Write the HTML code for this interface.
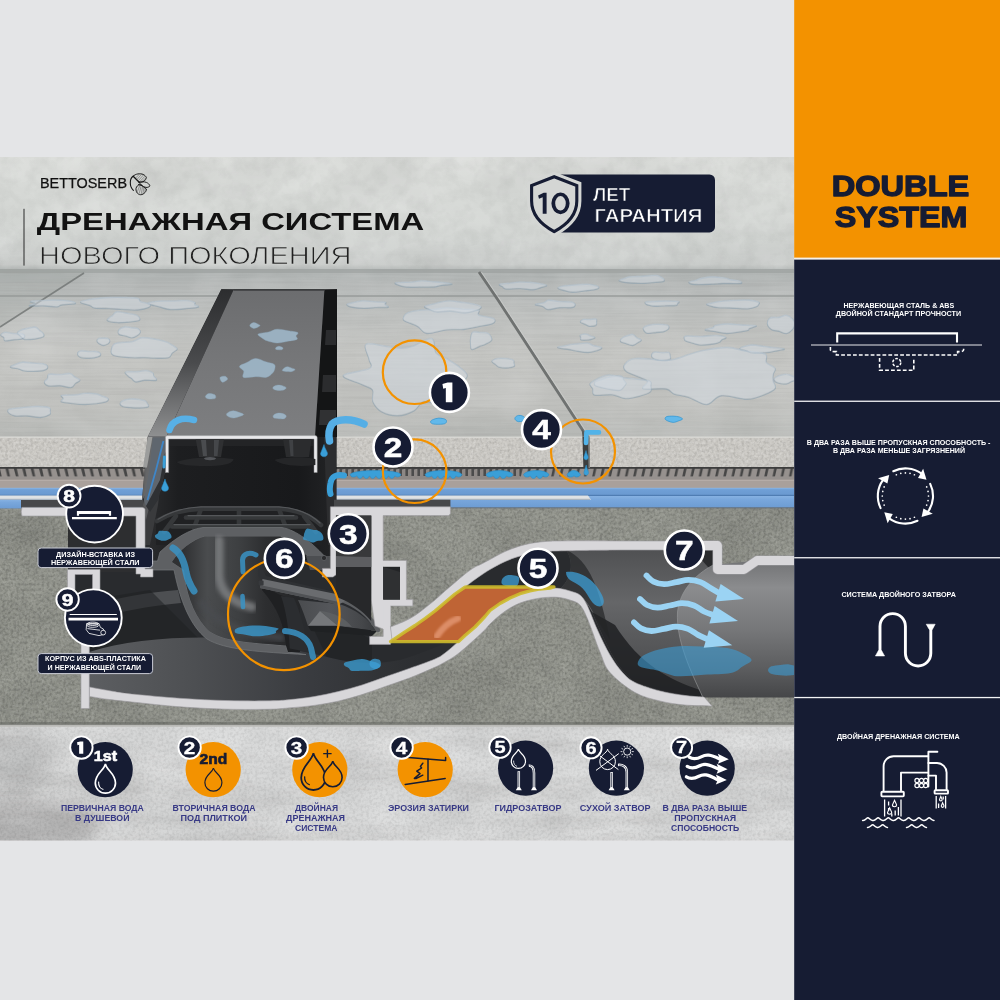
<!DOCTYPE html>
<html lang="ru">
<head>
<meta charset="utf-8">
<title>Double System</title>
<style>
html,body{margin:0;padding:0;background:#e4e5e7;}
body{width:1000px;height:1000px;overflow:hidden;font-family:"Liberation Sans",sans-serif;}
svg{display:block;position:absolute;left:0;top:0;will-change:transform;}
text{font-family:"Liberation Sans",sans-serif;}
</style>
</head>
<body>
<svg width="1000" height="1000" viewBox="0 0 1000 1000">
<defs>
  <clipPath id="mainClip"><rect x="0" y="157" width="794" height="683.5"/></clipPath>
  <!-- fine grain noise (dark speckles) -->
  <filter id="grain" x="0" y="0" width="100%" height="100%" color-interpolation-filters="sRGB">
    <feTurbulence type="fractalNoise" baseFrequency="0.36" numOctaves="2" seed="7"/>
    <feColorMatrix type="matrix" values="0 0 0 0 0  0 0 0 0 0  0 0 0 0 0  0 0 0 2.4 -0.95"/>
  </filter>
  <filter id="grainL" x="0" y="0" width="100%" height="100%" color-interpolation-filters="sRGB">
    <feTurbulence type="fractalNoise" baseFrequency="0.38" numOctaves="2" seed="11"/>
    <feColorMatrix type="matrix" values="0 0 0 0 1  0 0 0 0 1  0 0 0 0 1  0 0 0 2.4 -0.95"/>
  </filter>
  <!-- cloudy low-frequency noise -->
  <filter id="cloudD" x="0" y="0" width="100%" height="100%" color-interpolation-filters="sRGB">
    <feTurbulence type="fractalNoise" baseFrequency="0.012 0.02" numOctaves="4" seed="5"/>
    <feColorMatrix type="matrix" values="0 0 0 0 0  0 0 0 0 0  0 0 0 0 0  0 0 0 1.6 -0.55"/>
  </filter>
  <filter id="cloudL" x="0" y="0" width="100%" height="100%" color-interpolation-filters="sRGB">
    <feTurbulence type="fractalNoise" baseFrequency="0.015 0.022" numOctaves="4" seed="23"/>
    <feColorMatrix type="matrix" values="0 0 0 0 1  0 0 0 0 1  0 0 0 0 1  0 0 0 1.6 -0.55"/>
  </filter>
  <filter id="mottle" x="0" y="0" width="100%" height="100%" color-interpolation-filters="sRGB">
    <feTurbulence type="fractalNoise" baseFrequency="0.07" numOctaves="3" seed="31"/>
    <feColorMatrix type="matrix" values="0 0 0 0 0.35  0 0 0 0 0.36  0 0 0 0 0.35  0 0 0 2.0 -0.8"/>
  </filter>
  <filter id="cloudH" x="0" y="0" width="100%" height="100%" color-interpolation-filters="sRGB">
    <feTurbulence type="fractalNoise" baseFrequency="0.006 0.04" numOctaves="3" seed="13"/>
    <feColorMatrix type="matrix" values="0 0 0 0 0.3  0 0 0 0 0.28  0 0 0 0 0.27  0 0 0 2.2 -0.9"/>
  </filter>
  <filter id="streak" x="0" y="0" width="100%" height="100%" color-interpolation-filters="sRGB">
    <feTurbulence type="fractalNoise" baseFrequency="0.01 0.5" numOctaves="2" seed="9"/>
    <feColorMatrix type="matrix" values="0 0 0 0 0  0 0 0 0 0  0 0 0 0 0  0 0 0 1.6 -0.6"/>
  </filter>
  <filter id="blur1"><feGaussianBlur stdDeviation="1"/></filter>
  <filter id="blur2"><feGaussianBlur stdDeviation="2"/></filter>
  <filter id="blur4"><feGaussianBlur stdDeviation="4"/></filter>
  <filter id="blur8"><feGaussianBlur stdDeviation="8"/></filter>

  <linearGradient id="wallG" x1="0" y1="0" x2="0" y2="1">
    <stop offset="0" stop-color="#dbddda"/>
    <stop offset="0.6" stop-color="#d4d7d4"/>
    <stop offset="0.95" stop-color="#cdd0ce"/>
    <stop offset="1" stop-color="#b8bcbb"/>
  </linearGradient>
  <linearGradient id="floorG" x1="0" y1="0" x2="0" y2="1">
    <stop offset="0" stop-color="#adb1b0"/>
    <stop offset="0.15" stop-color="#b9bcbb"/>
    <stop offset="0.5" stop-color="#c3c4c1"/>
    <stop offset="0.8" stop-color="#bfc0bd"/>
    <stop offset="1" stop-color="#b5b7b4"/>
  </linearGradient>
  <linearGradient id="blueG" x1="0" y1="0" x2="0" y2="1">
    <stop offset="0" stop-color="#8db7e6"/>
    <stop offset="0.25" stop-color="#6f9fd6"/>
    <stop offset="1" stop-color="#6a99d0"/>
  </linearGradient>
  <linearGradient id="blueG2" x1="0" y1="0" x2="0" y2="1">
    <stop offset="0" stop-color="#86b1e2"/>
    <stop offset="0.3" stop-color="#79a7dc"/>
    <stop offset="1" stop-color="#6d9cd3"/>
  </linearGradient>
  <linearGradient id="plateG" x1="0" y1="0" x2="0" y2="1">
    <stop offset="0" stop-color="#6c6d6f"/>
    <stop offset="0.5" stop-color="#767779"/>
    <stop offset="1" stop-color="#7d7e80"/>
  </linearGradient>
  <linearGradient id="leftWallG" x1="0" y1="0" x2="0" y2="1">
    <stop offset="0" stop-color="#2c2d2f"/>
    <stop offset="0.5" stop-color="#4a4b4d"/>
    <stop offset="1" stop-color="#8f9091"/>
  </linearGradient>
  <linearGradient id="pipeG" x1="0" y1="0" x2="0" y2="1">
    <stop offset="0" stop-color="#77787a"/>
    <stop offset="0.25" stop-color="#8a8b8d"/>
    <stop offset="0.6" stop-color="#6f7072"/>
    <stop offset="1" stop-color="#4a4b4d"/>
  </linearGradient>
  <linearGradient id="sockG" x1="0" y1="0" x2="1" y2="1">
    <stop offset="0" stop-color="#3a3b3d"/>
    <stop offset="0.5" stop-color="#58595b"/>
    <stop offset="1" stop-color="#4a4b4d"/>
  </linearGradient>
  <pattern id="ribs3" x="0" y="468" width="8.4" height="12" patternUnits="userSpaceOnUse">
    <rect x="0" y="0" width="8.4" height="12" fill="#464646"/>
    <path d="M0 0.6 L5.4 0.6 L8.4 12 L2.4 12Z" fill="#96918e"/>
    <rect x="0" y="8.4" width="8.4" height="3.6" fill="#96918e"/>
  </pattern>
  <pattern id="ribs2" x="520" y="468" width="8.2" height="12" patternUnits="userSpaceOnUse">
    <rect x="0" y="0" width="8.2" height="12" fill="#464646"/>
    <path d="M2.6 0.6 L8.2 0.6 L5.8 12 L0 12Z" fill="#96918e"/>
    <rect x="0" y="8.4" width="8.2" height="3.6" fill="#96918e"/>
  </pattern>
  <pattern id="ribs" x="0" y="468" width="6" height="12" patternUnits="userSpaceOnUse">
    <rect x="0" y="0" width="6" height="12" fill="#4b4b4b"/>
    <path d="M0 1.5 L3.4 0.8 L3.4 12 L0 12Z" fill="#8d8885"/>
    <rect x="0" y="8" width="6" height="4" fill="#8d8885"/>
  </pattern>
</defs>
<rect x="0" y="0" width="1000" height="1000" fill="#e4e5e7"/>
<g clip-path="url(#mainClip)">
  <!-- WALL -->
  <rect x="0" y="157" width="794" height="113" fill="url(#wallG)"/>
  <rect x="0" y="157" width="794" height="113" filter="url(#cloudL)" opacity="0.22"/>
  <rect x="0" y="157" width="794" height="113" filter="url(#mottle)" opacity="0.07"/>
  <rect x="0" y="157" width="794" height="113" filter="url(#cloudD)" opacity="0.06"/>
  <!-- FLOOR -->
  <rect x="0" y="269" width="794" height="169" fill="url(#floorG)"/>
  <rect x="0" y="269" width="794" height="169" filter="url(#streak)" opacity="0.045"/>
  <rect x="0" y="269" width="794" height="169" filter="url(#cloudL)" opacity="0.18"/>
  <!-- far darker strip -->
  <rect x="0" y="269" width="794" height="4" fill="#9da1a0" opacity="0.7"/>
  <!-- left far darker zone -->
  <path d="M0 269 L86 271 L0 327Z" fill="#8f9392" opacity="0.16"/>
  <!-- joints -->
  <path d="M0 296 L794 296" stroke="#8f9392" stroke-width="1.3" opacity="0.8"/>
  <path d="M84 273 L0 327" stroke="#6f7372" stroke-width="1.6" opacity="0.8"/>
  <path d="M479 272 L498 300 L584.5 433" stroke="#6f7271" stroke-width="2.8" fill="none"/>
  <path d="M481.4 272 L500.4 300 L587 433" stroke="#d2d4d3" stroke-width="0.8" fill="none" opacity="0.7"/>
<g transform="translate(0 0.8)" fill="none" stroke="#8299ab" stroke-opacity="0.5" stroke-width="1.1">
<path d="M139.3 317.0C139.7 317.9 140.6 319.3 138.8 320.0C137.1 320.7 132.4 321.1 128.8 321.4C125.2 321.7 121.0 322.2 117.5 322.0C113.9 321.8 108.8 321.0 107.5 320.1C106.2 319.3 108.6 317.9 109.5 317.0C110.4 316.1 111.4 315.8 112.6 314.9C113.8 313.9 114.1 311.7 116.7 311.3C119.3 311.0 125.2 312.4 128.4 312.9C131.7 313.4 134.4 313.8 136.2 314.5C138.0 315.2 138.9 316.1 139.3 317.0Z"/>
<path d="M177.2 348.5C177.2 349.8 173.7 351.0 172.3 352.4C170.8 353.8 171.4 356.1 168.6 357.0C165.8 357.8 159.4 357.5 155.3 357.5C151.2 357.5 148.2 357.1 144.0 357.0C139.9 356.9 135.5 357.4 130.4 357.0C125.2 356.6 116.5 356.1 113.4 354.7C110.2 353.2 111.1 350.5 111.5 348.5C111.9 346.5 112.4 344.0 115.9 342.8C119.3 341.5 128.0 341.9 132.4 340.9C136.8 340.0 138.2 337.4 142.1 337.1C146.0 336.7 151.8 338.0 155.8 338.7C159.8 339.4 163.3 340.2 166.0 341.2C168.8 342.1 170.5 343.4 172.3 344.6C174.2 345.8 177.2 347.2 177.2 348.5Z"/>
<path d="M100.7 353.5C100.9 354.4 99.8 355.6 97.9 356.3C96.1 357.0 92.4 357.5 89.5 357.6C86.6 357.6 82.2 357.3 80.2 356.6C78.3 355.9 77.6 354.5 77.6 353.5C77.6 352.5 78.3 350.9 80.3 350.4C82.3 350.0 86.8 350.8 89.5 350.9C92.2 351.0 94.9 350.6 96.8 351.1C98.7 351.5 100.5 352.6 100.7 353.5Z"/>
<path d="M47.7 366.5C47.8 367.5 46.6 368.9 44.3 369.6C41.9 370.3 36.9 370.6 33.6 370.7C30.2 370.8 26.5 370.6 24.1 370.2C21.6 369.8 21.1 369.0 18.9 368.4C16.6 367.8 11.1 367.3 10.5 366.5C9.9 365.7 13.3 364.7 15.4 363.9C17.4 363.1 19.7 361.8 22.7 361.6C25.6 361.4 29.7 362.2 33.2 362.5C36.8 362.8 41.5 362.8 43.9 363.5C46.3 364.1 47.6 365.5 47.7 366.5Z"/>
<path d="M80.0 379.5C80.2 380.6 77.0 381.5 75.5 382.8C74.0 384.0 73.6 386.5 71.0 386.9C68.4 387.3 63.6 385.4 59.8 385.1C56.1 384.9 51.2 385.9 48.6 385.3C46.0 384.7 44.4 382.7 44.3 381.5C44.1 380.2 46.8 379.2 47.6 377.9C48.3 376.6 46.8 374.5 48.8 373.8C50.9 373.2 56.4 374.1 59.9 374.0C63.4 373.9 67.5 372.5 70.0 372.9C72.5 373.3 73.1 375.3 74.8 376.4C76.4 377.5 79.9 378.4 80.0 379.5Z"/>
<path d="M153.7 375.5C154.3 376.7 157.8 378.9 156.3 379.6C154.8 380.3 148.1 379.3 144.7 379.6C141.3 379.9 138.0 381.6 135.8 381.3C133.7 381.1 133.0 379.0 131.7 378.0C130.4 377.0 129.2 376.6 128.1 375.5C127.1 374.4 124.0 372.1 125.5 371.4C127.0 370.6 133.7 371.4 137.1 371.1C140.5 370.9 143.4 369.7 146.0 369.9C148.6 370.1 151.6 371.4 152.9 372.3C154.1 373.3 153.1 374.3 153.7 375.5Z"/>
<path d="M24.7 336.0C24.6 336.8 23.1 337.9 21.4 338.4C19.6 338.9 17.0 338.8 14.2 339.1C11.5 339.4 6.7 340.5 5.0 340.2C3.3 339.8 4.7 337.9 4.0 337.0C3.3 336.1 0.6 335.5 0.7 334.6C0.9 333.8 2.6 332.0 4.9 331.8C7.1 331.5 11.2 332.7 14.2 333.0C17.1 333.3 20.6 332.8 22.4 333.4C24.1 333.9 24.9 335.2 24.7 336.0Z"/>
<path d="M140.4 331.5C140.3 332.7 138.8 334.0 137.4 334.9C135.9 335.8 133.7 337.1 131.8 337.2C129.9 337.3 128.0 336.1 125.8 335.5C123.7 334.9 120.1 334.7 119.0 333.7C117.8 332.7 118.0 330.5 118.9 329.3C119.8 328.0 122.5 326.7 124.6 326.3C126.7 326.0 129.2 326.8 131.4 327.1C133.6 327.4 136.3 327.2 137.7 327.9C139.2 328.7 140.5 330.3 140.4 331.5Z"/>
<path d="M109.8 340.5C109.8 341.3 109.3 342.3 108.3 343.1C107.2 343.8 105.0 344.9 103.5 344.8C102.0 344.8 100.1 343.6 99.0 342.9C97.9 342.2 97.0 341.3 97.0 340.5C96.9 339.7 97.6 338.4 98.7 337.9C99.8 337.4 101.9 337.6 103.5 337.6C105.1 337.6 107.1 337.5 108.1 338.0C109.2 338.5 109.8 339.7 109.8 340.5Z"/>
<path d="M149.5 303.5C150.9 304.5 150.8 305.8 148.8 306.8C146.8 307.8 142.4 309.0 137.7 309.3C133.0 309.7 125.4 308.9 120.6 308.7C115.9 308.4 113.4 308.1 109.1 307.9C104.8 307.7 98.1 308.0 94.9 307.5C91.7 307.0 92.3 305.8 89.9 304.9C87.5 303.9 80.4 302.7 80.5 301.7C80.6 300.7 86.4 299.5 90.6 298.7C94.7 298.0 100.2 297.4 105.3 297.1C110.5 296.8 116.2 296.7 121.5 296.8C126.9 296.9 134.5 297.0 137.6 297.7C140.8 298.4 138.6 300.1 140.6 301.1C142.5 302.1 148.2 302.5 149.5 303.5Z"/>
<path d="M43.0 332.5C43.6 333.5 44.7 335.1 43.4 336.1C42.1 337.0 38.3 337.8 35.1 338.3C32.0 338.7 27.0 339.3 24.5 338.8C21.9 338.2 21.2 336.2 20.0 335.2C18.8 334.1 17.2 333.4 17.3 332.5C17.3 331.6 18.8 330.6 20.3 329.9C21.7 329.2 23.6 328.6 26.1 328.1C28.6 327.5 33.0 326.3 35.2 326.6C37.5 326.9 38.3 329.0 39.6 329.9C40.9 330.9 42.3 331.5 43.0 332.5Z"/>
<path d="M194.5 304.0C195.1 304.7 199.8 305.7 198.4 306.4C197.0 307.1 190.9 307.5 186.3 307.9C181.6 308.4 174.8 309.2 170.6 308.9C166.3 308.7 163.4 307.3 160.7 306.6C158.0 306.0 156.4 305.6 154.3 305.0C152.2 304.3 147.4 303.4 147.9 302.7C148.3 302.0 153.2 301.1 157.2 300.7C161.2 300.3 167.0 300.6 171.8 300.5C176.7 300.4 182.6 299.7 186.5 300.0C190.3 300.2 193.5 301.3 194.8 302.0C196.2 302.6 193.9 303.3 194.5 304.0Z"/>
<path d="M75.2 303.0C73.7 303.6 64.8 303.7 61.8 304.3C58.7 304.8 59.8 306.1 57.0 306.2C54.2 306.4 49.6 305.5 45.0 305.3C40.4 305.1 31.0 305.6 29.4 305.2C27.8 304.9 35.2 303.7 35.4 303.0C35.6 302.3 29.1 301.4 30.4 300.9C31.7 300.3 38.7 300.1 43.2 299.9C47.7 299.6 52.8 299.4 57.4 299.6C62.0 299.7 67.7 300.2 70.7 300.7C73.7 301.3 76.7 302.4 75.2 303.0Z"/>
<path d="M108.1 398.0C108.7 398.9 108.3 400.1 106.4 401.0C104.6 401.8 100.5 402.5 96.9 403.0C93.3 403.4 89.0 403.8 85.0 403.8C81.0 403.8 77.1 403.4 73.1 402.9C69.2 402.5 63.1 402.1 61.4 401.3C59.8 400.4 63.3 399.1 63.4 398.0C63.4 396.9 59.6 395.4 61.7 394.8C63.8 394.1 72.0 394.6 75.9 394.2C79.8 393.9 81.6 392.8 85.0 392.7C88.4 392.5 93.5 392.8 96.3 393.3C99.2 393.8 100.4 394.8 102.3 395.6C104.3 396.4 107.4 397.1 108.1 398.0Z"/>
<path d="M50.2 410.5C50.3 411.6 51.3 412.9 49.7 414.0C48.1 415.0 44.2 416.6 40.5 416.8C36.7 417.0 31.7 415.6 27.5 415.3C23.2 415.0 18.1 415.8 15.0 415.3C11.8 414.8 9.6 413.3 8.6 412.2C7.6 411.1 7.2 409.6 9.1 408.8C10.9 408.0 16.6 407.6 19.8 407.3C22.9 406.9 24.9 406.7 27.9 406.5C30.9 406.3 34.2 405.7 37.8 405.8C41.3 405.9 47.1 406.3 49.1 407.1C51.2 407.9 50.2 409.4 50.2 410.5Z"/>
<path d="M147.3 403.0C147.8 404.0 149.6 405.5 148.2 406.2C146.9 406.9 142.1 407.2 139.2 407.3C136.4 407.4 133.9 407.2 131.1 407.0C128.4 406.7 124.8 406.6 122.9 405.9C121.1 405.3 120.0 404.0 120.1 403.0C120.1 402.0 121.3 400.9 123.0 400.1C124.7 399.3 127.8 398.6 130.5 398.4C133.1 398.2 136.5 398.5 139.0 398.9C141.5 399.2 144.1 399.8 145.5 400.5C146.8 401.2 146.9 402.0 147.3 403.0Z"/>
<path d="M493.6 318.0C495.9 319.4 495.4 321.7 492.7 323.0C490.0 324.4 482.2 325.2 477.4 326.2C472.5 327.1 468.7 328.3 463.6 328.8C458.6 329.3 453.1 328.6 447.0 329.2C440.9 329.9 431.6 333.2 426.9 332.8C422.2 332.3 421.1 328.1 418.5 326.4C416.0 324.8 414.0 324.2 411.6 323.1C409.1 322.0 405.1 321.1 403.8 319.9C402.5 318.7 403.2 317.4 403.8 316.1C404.5 314.8 405.2 313.4 407.7 312.3C410.2 311.2 414.6 310.2 418.9 309.7C423.1 309.1 428.5 309.4 433.2 309.0C437.8 308.6 442.1 307.3 446.8 307.2C451.5 307.1 456.1 308.0 461.3 308.4C466.6 308.8 475.4 308.6 478.3 309.6C481.2 310.6 476.2 313.0 478.7 314.4C481.3 315.8 491.2 316.6 493.6 318.0Z"/>
<path d="M467.2 375.0C467.5 378.4 461.1 381.8 458.9 385.3C456.8 388.7 456.5 392.1 454.4 395.5C452.2 398.9 451.3 404.7 446.3 405.6C441.3 406.5 429.7 400.2 424.3 401.0C418.9 401.7 418.5 407.8 414.1 410.1C409.7 412.5 403.3 414.9 397.9 415.1C392.5 415.3 385.8 413.6 381.7 411.3C377.5 408.9 374.3 404.6 372.8 401.0C371.2 397.3 374.5 392.4 372.6 389.5C370.7 386.7 366.2 386.3 361.4 383.8C356.5 381.4 341.9 377.7 343.3 375.0C344.7 372.3 365.3 370.4 369.6 367.8C373.9 365.1 369.7 363.0 369.1 359.0C368.5 355.0 363.0 346.0 365.9 343.8C368.8 341.6 380.7 345.2 386.5 345.8C392.3 346.5 396.2 347.7 400.6 347.7C405.0 347.6 407.6 347.3 412.8 345.7C418.0 344.1 427.9 337.0 431.8 338.1C435.6 339.2 433.5 349.1 435.9 352.4C438.4 355.7 442.9 355.8 446.4 357.9C450.0 360.0 453.9 362.2 457.4 365.0C460.9 367.9 467.0 371.6 467.2 375.0Z"/>
<path d="M513.8 362.5C514.0 363.5 515.4 364.9 514.2 365.7C513.0 366.5 509.2 367.2 506.6 367.3C504.1 367.4 500.7 366.9 498.8 366.4C496.9 365.8 496.6 364.7 495.4 363.8C494.3 362.9 491.5 361.7 491.9 360.7C492.3 359.7 495.3 358.4 497.8 357.9C500.2 357.5 503.9 357.8 506.5 358.0C509.1 358.3 512.1 358.9 513.3 359.6C514.6 360.3 513.7 361.5 513.8 362.5Z"/>
<path d="M491.7 339.5C491.1 341.3 486.9 342.8 484.9 343.9C482.9 344.9 482.0 344.8 479.8 345.6C477.6 346.5 473.4 349.5 471.8 348.9C470.2 348.3 470.6 343.8 470.4 341.9C470.2 339.9 470.3 338.9 470.7 337.2C471.1 335.5 471.2 332.4 472.8 331.5C474.4 330.6 477.6 331.6 480.2 331.9C482.7 332.1 486.4 331.6 488.3 332.8C490.2 334.1 492.3 337.7 491.7 339.5Z"/>
<path d="M480.9 306.0C481.9 307.1 479.7 308.7 477.1 309.8C474.5 310.8 469.8 312.2 465.2 312.3C460.7 312.5 454.7 310.7 450.0 310.6C445.3 310.5 440.3 311.8 436.9 311.5C433.4 311.2 431.3 309.8 429.3 308.9C427.2 308.0 424.0 306.9 424.6 306.0C425.2 305.1 430.3 304.3 432.8 303.6C435.3 302.9 436.8 302.3 439.7 301.7C442.5 301.1 446.5 300.2 450.0 300.2C453.5 300.2 457.0 301.1 460.5 301.6C464.1 302.1 467.7 302.3 471.1 303.1C474.5 303.8 480.0 304.9 480.9 306.0Z"/>
<path d="M575.1 304.0C575.3 304.9 574.9 306.3 572.3 306.8C569.7 307.3 563.6 306.8 559.6 307.1C555.5 307.5 550.7 309.1 547.9 308.9C545.1 308.7 545.0 306.8 542.9 305.9C540.8 305.1 535.1 304.6 535.3 304.0C535.4 303.4 541.5 302.9 543.8 302.2C546.0 301.5 546.0 299.9 548.6 299.6C551.3 299.4 555.7 300.7 559.5 300.9C563.2 301.2 568.6 300.9 571.2 301.4C573.9 301.9 575.0 303.1 575.1 304.0Z"/>
<path d="M596.5 321.5C596.5 322.5 597.2 323.9 596.1 324.6C594.9 325.3 591.3 325.8 589.5 325.7C587.7 325.5 586.6 324.3 585.0 323.6C583.5 322.9 580.6 322.3 580.4 321.5C580.2 320.7 582.3 319.3 583.8 318.8C585.3 318.4 587.4 319.0 589.5 318.9C591.6 318.8 595.0 318.0 596.1 318.4C597.3 318.8 596.5 320.5 596.5 321.5Z"/>
<path d="M595.0 337.0C595.1 337.6 592.3 338.4 590.9 338.8C589.5 339.2 588.2 339.4 586.5 339.5C584.8 339.6 581.8 339.7 580.9 339.2C580.0 338.8 580.9 337.8 580.9 337.0C580.8 336.2 579.4 335.1 580.4 334.6C581.3 334.0 584.8 333.4 586.5 333.6C588.2 333.7 589.0 334.8 590.4 335.4C591.9 336.0 595.0 336.4 595.0 337.0Z"/>
<path d="M601.6 347.0C602.4 347.8 600.3 348.8 598.1 349.6C595.8 350.4 591.8 351.7 588.1 351.8C584.3 351.9 578.7 350.7 575.5 350.2C572.2 349.7 571.6 349.3 568.6 348.8C565.6 348.3 557.9 347.7 557.5 347.0C557.1 346.3 563.3 345.5 566.2 344.9C569.1 344.3 571.3 343.9 574.9 343.5C578.5 343.1 584.5 342.3 587.6 342.5C590.7 342.8 591.1 344.3 593.5 345.1C595.8 345.8 600.9 346.2 601.6 347.0Z"/>
<path d="M626.1 383.0C626.1 384.0 625.0 384.9 624.0 386.0C623.0 387.1 622.2 389.3 619.9 389.7C617.5 390.2 612.8 389.1 609.9 388.7C607.0 388.3 605.1 387.8 602.6 387.2C600.2 386.6 596.3 385.9 595.1 384.9C593.9 383.9 594.4 382.2 595.5 381.1C596.7 380.1 599.8 379.3 602.1 378.6C604.4 377.8 606.5 377.0 609.6 376.5C612.7 376.0 618.5 374.8 620.9 375.4C623.3 376.0 623.1 378.7 624.0 380.0C624.9 381.3 626.1 382.0 626.1 383.0Z"/>
<path d="M641.3 339.5C641.5 340.3 639.3 341.3 637.8 342.1C636.4 343.0 634.7 344.7 632.7 344.8C630.7 344.9 627.9 343.6 625.9 342.9C623.9 342.3 621.3 341.9 620.6 341.0C619.8 340.2 620.7 339.0 621.5 338.1C622.3 337.2 623.6 336.5 625.5 335.8C627.4 335.1 630.9 333.6 632.8 333.9C634.7 334.1 635.3 336.3 636.8 337.2C638.2 338.2 641.1 338.7 641.3 339.5Z"/>
<path d="M668.3 328.5C667.6 329.5 665.6 330.5 663.6 331.1C661.6 331.6 659.0 331.5 656.2 331.8C653.5 332.0 649.2 333.1 647.2 332.7C645.1 332.4 644.5 330.7 643.9 329.8C643.3 328.9 642.8 328.0 643.5 327.2C644.2 326.3 645.9 325.4 648.1 324.8C650.4 324.3 653.8 323.7 657.0 323.7C660.3 323.7 665.8 324.0 667.7 324.8C669.6 325.6 669.0 327.5 668.3 328.5Z"/>
<path d="M721.4 339.5C720.4 340.3 721.2 340.8 719.8 341.4C718.5 342.0 716.6 342.8 713.4 343.3C710.1 343.8 703.9 344.6 700.2 344.4C696.6 344.2 693.8 342.9 691.5 342.2C689.1 341.6 687.1 341.1 686.0 340.5C684.8 339.9 684.4 339.2 684.4 338.4C684.4 337.6 683.2 336.0 686.0 335.6C688.8 335.2 696.4 336.1 701.3 335.9C706.1 335.8 711.2 334.7 715.3 334.9C719.4 335.0 725.0 336.1 726.0 336.8C727.0 337.6 722.5 338.7 721.4 339.5Z"/>
<path d="M749.3 328.0C747.9 328.8 749.5 329.3 748.0 329.8C746.4 330.4 743.4 330.7 739.9 331.2C736.3 331.7 730.9 332.9 726.8 332.8C722.7 332.8 718.9 331.6 715.3 331.0C711.7 330.4 705.5 329.9 705.1 329.3C704.8 328.6 711.4 327.8 713.1 327.1C714.8 326.4 712.9 325.6 715.2 325.0C717.5 324.3 722.6 323.4 726.9 323.3C731.2 323.2 736.2 324.0 741.1 324.3C746.0 324.7 754.8 324.7 756.2 325.3C757.6 325.9 750.7 327.2 749.3 328.0Z"/>
<path d="M794.5 323.5C794.5 325.3 793.8 327.3 792.4 328.9C791.1 330.5 788.6 332.7 786.4 333.0C784.1 333.3 781.2 331.3 778.8 330.6C776.3 329.9 773.4 330.1 771.5 328.9C769.6 327.7 767.6 325.4 767.4 323.5C767.1 321.6 768.1 318.5 770.1 317.4C772.0 316.2 776.3 317.3 778.9 316.8C781.6 316.4 783.8 314.5 786.0 314.7C788.3 315.0 790.9 316.7 792.3 318.2C793.8 319.6 794.5 321.7 794.5 323.5Z"/>
<path d="M773.2 374.0C772.8 376.1 772.7 378.0 773.1 380.3C773.4 382.6 776.6 385.5 775.2 387.8C773.7 390.1 769.0 392.3 764.3 394.1C759.6 395.9 754.4 398.4 747.2 398.6C740.0 398.8 728.0 394.2 721.3 395.1C714.5 396.0 712.1 403.7 706.6 404.0C701.1 404.2 693.7 398.3 688.3 396.6C682.8 394.8 677.8 394.7 674.1 393.4C670.3 392.0 671.2 389.2 666.0 388.3C660.9 387.4 646.2 389.4 643.2 388.2C640.1 387.0 648.4 383.1 647.7 381.1C647.1 379.2 643.1 378.3 639.5 376.6C635.9 374.9 628.6 372.9 626.2 370.8C623.7 368.7 623.2 365.9 624.8 363.8C626.3 361.6 628.5 358.6 635.4 357.9C642.3 357.2 659.1 359.8 666.2 359.8C673.4 359.7 674.3 358.6 678.2 357.6C682.1 356.6 685.0 355.0 689.5 353.7C694.1 352.3 699.3 350.5 705.6 349.4C711.9 348.2 720.5 346.7 727.1 346.8C733.7 347.0 739.1 349.2 745.4 350.3C751.8 351.4 761.9 351.7 765.3 353.6C768.8 355.5 764.7 359.5 766.3 361.9C767.9 364.2 773.9 365.6 775.0 367.6C776.2 369.6 773.5 371.9 773.2 374.0Z"/>
<path d="M650.8 386.0C650.9 387.8 652.1 389.7 650.3 391.3C648.5 392.9 644.0 394.3 639.9 395.4C635.8 396.5 630.2 398.1 625.6 398.0C621.1 397.8 617.8 394.8 612.6 394.2C607.4 393.6 597.9 395.3 594.6 394.4C591.3 393.4 593.6 390.3 592.8 388.5C592.0 386.6 589.3 385.0 590.0 383.3C590.7 381.6 594.0 379.9 597.1 378.4C600.3 376.9 604.4 374.6 609.0 374.4C613.5 374.2 619.9 376.7 624.5 377.3C629.1 378.0 632.3 377.8 636.5 378.4C640.7 379.0 647.4 379.5 649.8 380.8C652.2 382.1 650.7 384.2 650.8 386.0Z"/>
<path d="M670.1 355.0C670.3 356.1 671.4 357.8 670.1 358.6C668.7 359.4 664.7 360.0 662.0 360.0C659.3 360.0 655.9 359.3 654.1 358.5C652.4 357.7 651.5 356.2 651.5 355.0C651.6 353.8 652.6 352.1 654.3 351.6C656.0 351.1 659.6 352.1 662.0 352.1C664.4 352.2 667.5 351.5 668.8 352.0C670.2 352.5 669.9 353.9 670.1 355.0Z"/>
<path d="M797.0 378.5C796.8 379.4 793.3 380.2 791.5 381.0C789.6 381.8 788.3 383.1 786.0 383.3C783.7 383.5 779.6 383.1 777.6 382.3C775.6 381.5 773.9 379.7 774.1 378.5C774.3 377.3 776.9 376.1 778.9 375.3C780.8 374.5 783.7 373.6 786.0 373.7C788.3 373.7 790.7 374.7 792.6 375.6C794.4 376.4 797.2 377.6 797.0 378.5Z"/>
<path d="M546.8 285.0C546.9 285.7 543.0 286.4 540.7 287.1C538.4 287.8 536.5 288.9 533.0 289.1C529.6 289.2 524.6 288.1 520.1 288.0C515.6 287.9 509.1 288.7 506.1 288.4C503.2 288.0 503.5 286.8 502.4 286.0C501.3 285.3 498.3 284.4 499.6 283.8C500.9 283.2 507.2 282.9 510.5 282.5C513.8 282.1 516.2 281.5 519.6 281.4C522.9 281.3 527.3 281.6 530.6 281.8C534.0 282.1 536.9 282.5 539.6 283.0C542.3 283.6 546.6 284.3 546.8 285.0Z"/>
<path d="M664.1 279.0C664.3 279.7 664.9 280.5 662.9 281.0C660.9 281.5 656.0 281.7 652.3 282.0C648.6 282.3 644.9 282.7 640.8 282.7C636.7 282.7 631.3 282.5 627.7 282.1C624.1 281.7 619.7 280.9 619.1 280.2C618.5 279.5 622.4 278.7 624.1 278.0C625.9 277.4 626.7 276.6 629.5 276.2C632.4 275.8 636.8 276.0 641.2 275.8C645.6 275.5 652.3 274.5 655.7 274.7C659.2 274.9 660.5 276.4 661.9 277.1C663.3 277.8 663.9 278.3 664.1 279.0Z"/>
<path d="M739.4 280.5C741.1 281.1 743.3 282.4 740.5 282.8C737.7 283.2 727.4 282.7 722.7 282.8C717.9 283.0 716.6 283.4 711.9 283.5C707.2 283.7 698.2 284.2 694.4 283.8C690.5 283.5 688.5 282.3 688.8 281.6C689.1 280.9 694.1 280.3 696.0 279.7C697.9 279.1 697.6 278.6 700.0 278.1C702.5 277.5 706.5 276.4 710.7 276.3C714.9 276.2 721.7 277.0 725.0 277.4C728.3 277.9 728.1 278.6 730.5 279.1C732.9 279.6 737.8 279.9 739.4 280.5Z"/>
<path d="M598.7 287.5C598.1 288.1 596.0 288.8 593.7 289.2C591.5 289.7 588.6 289.8 585.0 290.2C581.5 290.6 576.0 291.7 572.4 291.6C568.7 291.5 565.5 290.3 563.1 289.6C560.7 289.0 557.8 288.2 557.9 287.5C557.9 286.8 560.6 285.9 563.3 285.4C566.1 284.9 570.3 284.7 574.2 284.4C578.2 284.1 583.2 283.6 587.0 283.7C590.8 283.9 594.9 284.7 596.9 285.4C598.8 286.0 599.2 286.9 598.7 287.5Z"/>
<path d="M452.0 283.5C451.6 284.0 443.4 284.4 440.4 284.9C437.5 285.4 437.2 286.0 434.1 286.3C431.0 286.5 426.6 286.4 422.0 286.4C417.4 286.5 410.4 286.8 406.5 286.5C402.6 286.2 400.4 285.3 398.6 284.6C396.9 283.9 393.4 282.8 395.7 282.3C398.0 281.8 408.1 281.8 412.4 281.5C416.7 281.1 418.2 280.2 421.6 280.2C425.0 280.1 429.1 280.9 432.7 281.2C436.2 281.4 439.5 281.5 442.7 281.9C445.9 282.3 452.3 283.0 452.0 283.5Z"/>
<path d="M384.8 304.0C385.2 304.8 389.6 306.1 388.0 306.6C386.3 307.1 378.9 306.9 374.9 307.0C370.9 307.2 367.7 307.8 363.9 307.7C360.2 307.6 355.1 307.2 352.3 306.6C349.4 306.0 346.4 304.8 346.7 304.0C347.0 303.2 351.4 302.3 354.2 301.7C357.1 301.1 360.4 300.3 363.8 300.2C367.2 300.1 370.9 301.0 374.5 301.2C378.1 301.5 383.8 301.3 385.6 301.7C387.3 302.2 384.4 303.2 384.8 304.0Z"/>
<path d="M758.5 304.0C758.1 304.7 758.3 305.4 756.6 306.0C754.9 306.7 752.5 308.0 748.0 308.2C743.6 308.4 735.1 307.5 730.0 307.3C724.9 307.1 720.5 307.2 717.3 306.9C714.1 306.6 712.7 306.0 710.9 305.5C709.1 305.0 706.4 304.5 706.4 304.0C706.5 303.5 709.3 303.0 711.2 302.6C713.1 302.1 714.7 301.6 717.9 301.2C721.0 300.8 724.8 300.2 730.0 300.0C735.2 299.7 744.3 299.3 749.1 299.6C753.9 299.9 757.2 301.0 758.8 301.8C760.4 302.5 758.8 303.3 758.5 304.0Z"/>
<path d="M677.4 303.0C677.1 303.6 678.2 304.4 676.1 304.8C674.0 305.1 668.3 305.0 664.7 305.2C661.1 305.3 657.2 305.7 654.4 305.6C651.5 305.5 649.2 304.8 647.7 304.3C646.2 303.9 645.8 303.5 645.5 303.0C645.2 302.5 644.2 301.8 645.8 301.5C647.4 301.1 651.9 300.9 655.1 300.8C658.4 300.6 661.7 300.4 665.5 300.4C669.4 300.5 676.4 300.6 678.4 301.0C680.4 301.4 677.8 302.4 677.4 303.0Z"/>
<path d="M784.3 348.5C784.8 349.1 778.3 349.9 775.3 350.4C772.3 351.0 770.3 351.7 766.5 352.0C762.7 352.3 755.9 352.8 752.6 352.5C749.2 352.2 748.4 350.9 746.3 350.2C744.2 349.6 740.4 349.1 739.8 348.5C739.3 347.9 741.0 347.0 743.1 346.3C745.1 345.7 748.7 344.4 752.3 344.3C755.9 344.3 761.2 345.6 764.6 346.0C767.9 346.5 769.0 346.5 772.3 346.9C775.6 347.3 783.8 347.9 784.3 348.5Z"/>
</g>
<g fill="#d3dce3" fill-opacity="0.5" stroke="#a9b9c4" stroke-opacity="0.45" stroke-width="0.6">
<path d="M139.3 317.0C139.7 317.9 140.6 319.3 138.8 320.0C137.1 320.7 132.4 321.1 128.8 321.4C125.2 321.7 121.0 322.2 117.5 322.0C113.9 321.8 108.8 321.0 107.5 320.1C106.2 319.3 108.6 317.9 109.5 317.0C110.4 316.1 111.4 315.8 112.6 314.9C113.8 313.9 114.1 311.7 116.7 311.3C119.3 311.0 125.2 312.4 128.4 312.9C131.7 313.4 134.4 313.8 136.2 314.5C138.0 315.2 138.9 316.1 139.3 317.0Z"/>
<path d="M177.2 348.5C177.2 349.8 173.7 351.0 172.3 352.4C170.8 353.8 171.4 356.1 168.6 357.0C165.8 357.8 159.4 357.5 155.3 357.5C151.2 357.5 148.2 357.1 144.0 357.0C139.9 356.9 135.5 357.4 130.4 357.0C125.2 356.6 116.5 356.1 113.4 354.7C110.2 353.2 111.1 350.5 111.5 348.5C111.9 346.5 112.4 344.0 115.9 342.8C119.3 341.5 128.0 341.9 132.4 340.9C136.8 340.0 138.2 337.4 142.1 337.1C146.0 336.7 151.8 338.0 155.8 338.7C159.8 339.4 163.3 340.2 166.0 341.2C168.8 342.1 170.5 343.4 172.3 344.6C174.2 345.8 177.2 347.2 177.2 348.5Z"/>
<path d="M100.7 353.5C100.9 354.4 99.8 355.6 97.9 356.3C96.1 357.0 92.4 357.5 89.5 357.6C86.6 357.6 82.2 357.3 80.2 356.6C78.3 355.9 77.6 354.5 77.6 353.5C77.6 352.5 78.3 350.9 80.3 350.4C82.3 350.0 86.8 350.8 89.5 350.9C92.2 351.0 94.9 350.6 96.8 351.1C98.7 351.5 100.5 352.6 100.7 353.5Z"/>
<path d="M47.7 366.5C47.8 367.5 46.6 368.9 44.3 369.6C41.9 370.3 36.9 370.6 33.6 370.7C30.2 370.8 26.5 370.6 24.1 370.2C21.6 369.8 21.1 369.0 18.9 368.4C16.6 367.8 11.1 367.3 10.5 366.5C9.9 365.7 13.3 364.7 15.4 363.9C17.4 363.1 19.7 361.8 22.7 361.6C25.6 361.4 29.7 362.2 33.2 362.5C36.8 362.8 41.5 362.8 43.9 363.5C46.3 364.1 47.6 365.5 47.7 366.5Z"/>
<path d="M80.0 379.5C80.2 380.6 77.0 381.5 75.5 382.8C74.0 384.0 73.6 386.5 71.0 386.9C68.4 387.3 63.6 385.4 59.8 385.1C56.1 384.9 51.2 385.9 48.6 385.3C46.0 384.7 44.4 382.7 44.3 381.5C44.1 380.2 46.8 379.2 47.6 377.9C48.3 376.6 46.8 374.5 48.8 373.8C50.9 373.2 56.4 374.1 59.9 374.0C63.4 373.9 67.5 372.5 70.0 372.9C72.5 373.3 73.1 375.3 74.8 376.4C76.4 377.5 79.9 378.4 80.0 379.5Z"/>
<path d="M153.7 375.5C154.3 376.7 157.8 378.9 156.3 379.6C154.8 380.3 148.1 379.3 144.7 379.6C141.3 379.9 138.0 381.6 135.8 381.3C133.7 381.1 133.0 379.0 131.7 378.0C130.4 377.0 129.2 376.6 128.1 375.5C127.1 374.4 124.0 372.1 125.5 371.4C127.0 370.6 133.7 371.4 137.1 371.1C140.5 370.9 143.4 369.7 146.0 369.9C148.6 370.1 151.6 371.4 152.9 372.3C154.1 373.3 153.1 374.3 153.7 375.5Z"/>
<path d="M24.7 336.0C24.6 336.8 23.1 337.9 21.4 338.4C19.6 338.9 17.0 338.8 14.2 339.1C11.5 339.4 6.7 340.5 5.0 340.2C3.3 339.8 4.7 337.9 4.0 337.0C3.3 336.1 0.6 335.5 0.7 334.6C0.9 333.8 2.6 332.0 4.9 331.8C7.1 331.5 11.2 332.7 14.2 333.0C17.1 333.3 20.6 332.8 22.4 333.4C24.1 333.9 24.9 335.2 24.7 336.0Z"/>
<path d="M140.4 331.5C140.3 332.7 138.8 334.0 137.4 334.9C135.9 335.8 133.7 337.1 131.8 337.2C129.9 337.3 128.0 336.1 125.8 335.5C123.7 334.9 120.1 334.7 119.0 333.7C117.8 332.7 118.0 330.5 118.9 329.3C119.8 328.0 122.5 326.7 124.6 326.3C126.7 326.0 129.2 326.8 131.4 327.1C133.6 327.4 136.3 327.2 137.7 327.9C139.2 328.7 140.5 330.3 140.4 331.5Z"/>
<path d="M109.8 340.5C109.8 341.3 109.3 342.3 108.3 343.1C107.2 343.8 105.0 344.9 103.5 344.8C102.0 344.8 100.1 343.6 99.0 342.9C97.9 342.2 97.0 341.3 97.0 340.5C96.9 339.7 97.6 338.4 98.7 337.9C99.8 337.4 101.9 337.6 103.5 337.6C105.1 337.6 107.1 337.5 108.1 338.0C109.2 338.5 109.8 339.7 109.8 340.5Z"/>
<path d="M149.5 303.5C150.9 304.5 150.8 305.8 148.8 306.8C146.8 307.8 142.4 309.0 137.7 309.3C133.0 309.7 125.4 308.9 120.6 308.7C115.9 308.4 113.4 308.1 109.1 307.9C104.8 307.7 98.1 308.0 94.9 307.5C91.7 307.0 92.3 305.8 89.9 304.9C87.5 303.9 80.4 302.7 80.5 301.7C80.6 300.7 86.4 299.5 90.6 298.7C94.7 298.0 100.2 297.4 105.3 297.1C110.5 296.8 116.2 296.7 121.5 296.8C126.9 296.9 134.5 297.0 137.6 297.7C140.8 298.4 138.6 300.1 140.6 301.1C142.5 302.1 148.2 302.5 149.5 303.5Z"/>
<path d="M43.0 332.5C43.6 333.5 44.7 335.1 43.4 336.1C42.1 337.0 38.3 337.8 35.1 338.3C32.0 338.7 27.0 339.3 24.5 338.8C21.9 338.2 21.2 336.2 20.0 335.2C18.8 334.1 17.2 333.4 17.3 332.5C17.3 331.6 18.8 330.6 20.3 329.9C21.7 329.2 23.6 328.6 26.1 328.1C28.6 327.5 33.0 326.3 35.2 326.6C37.5 326.9 38.3 329.0 39.6 329.9C40.9 330.9 42.3 331.5 43.0 332.5Z"/>
<path d="M194.5 304.0C195.1 304.7 199.8 305.7 198.4 306.4C197.0 307.1 190.9 307.5 186.3 307.9C181.6 308.4 174.8 309.2 170.6 308.9C166.3 308.7 163.4 307.3 160.7 306.6C158.0 306.0 156.4 305.6 154.3 305.0C152.2 304.3 147.4 303.4 147.9 302.7C148.3 302.0 153.2 301.1 157.2 300.7C161.2 300.3 167.0 300.6 171.8 300.5C176.7 300.4 182.6 299.7 186.5 300.0C190.3 300.2 193.5 301.3 194.8 302.0C196.2 302.6 193.9 303.3 194.5 304.0Z"/>
<path d="M75.2 303.0C73.7 303.6 64.8 303.7 61.8 304.3C58.7 304.8 59.8 306.1 57.0 306.2C54.2 306.4 49.6 305.5 45.0 305.3C40.4 305.1 31.0 305.6 29.4 305.2C27.8 304.9 35.2 303.7 35.4 303.0C35.6 302.3 29.1 301.4 30.4 300.9C31.7 300.3 38.7 300.1 43.2 299.9C47.7 299.6 52.8 299.4 57.4 299.6C62.0 299.7 67.7 300.2 70.7 300.7C73.7 301.3 76.7 302.4 75.2 303.0Z"/>
<path d="M108.1 398.0C108.7 398.9 108.3 400.1 106.4 401.0C104.6 401.8 100.5 402.5 96.9 403.0C93.3 403.4 89.0 403.8 85.0 403.8C81.0 403.8 77.1 403.4 73.1 402.9C69.2 402.5 63.1 402.1 61.4 401.3C59.8 400.4 63.3 399.1 63.4 398.0C63.4 396.9 59.6 395.4 61.7 394.8C63.8 394.1 72.0 394.6 75.9 394.2C79.8 393.9 81.6 392.8 85.0 392.7C88.4 392.5 93.5 392.8 96.3 393.3C99.2 393.8 100.4 394.8 102.3 395.6C104.3 396.4 107.4 397.1 108.1 398.0Z"/>
<path d="M50.2 410.5C50.3 411.6 51.3 412.9 49.7 414.0C48.1 415.0 44.2 416.6 40.5 416.8C36.7 417.0 31.7 415.6 27.5 415.3C23.2 415.0 18.1 415.8 15.0 415.3C11.8 414.8 9.6 413.3 8.6 412.2C7.6 411.1 7.2 409.6 9.1 408.8C10.9 408.0 16.6 407.6 19.8 407.3C22.9 406.9 24.9 406.7 27.9 406.5C30.9 406.3 34.2 405.7 37.8 405.8C41.3 405.9 47.1 406.3 49.1 407.1C51.2 407.9 50.2 409.4 50.2 410.5Z"/>
<path d="M147.3 403.0C147.8 404.0 149.6 405.5 148.2 406.2C146.9 406.9 142.1 407.2 139.2 407.3C136.4 407.4 133.9 407.2 131.1 407.0C128.4 406.7 124.8 406.6 122.9 405.9C121.1 405.3 120.0 404.0 120.1 403.0C120.1 402.0 121.3 400.9 123.0 400.1C124.7 399.3 127.8 398.6 130.5 398.4C133.1 398.2 136.5 398.5 139.0 398.9C141.5 399.2 144.1 399.8 145.5 400.5C146.8 401.2 146.9 402.0 147.3 403.0Z"/>
<path d="M493.6 318.0C495.9 319.4 495.4 321.7 492.7 323.0C490.0 324.4 482.2 325.2 477.4 326.2C472.5 327.1 468.7 328.3 463.6 328.8C458.6 329.3 453.1 328.6 447.0 329.2C440.9 329.9 431.6 333.2 426.9 332.8C422.2 332.3 421.1 328.1 418.5 326.4C416.0 324.8 414.0 324.2 411.6 323.1C409.1 322.0 405.1 321.1 403.8 319.9C402.5 318.7 403.2 317.4 403.8 316.1C404.5 314.8 405.2 313.4 407.7 312.3C410.2 311.2 414.6 310.2 418.9 309.7C423.1 309.1 428.5 309.4 433.2 309.0C437.8 308.6 442.1 307.3 446.8 307.2C451.5 307.1 456.1 308.0 461.3 308.4C466.6 308.8 475.4 308.6 478.3 309.6C481.2 310.6 476.2 313.0 478.7 314.4C481.3 315.8 491.2 316.6 493.6 318.0Z"/>
<path d="M467.2 375.0C467.5 378.4 461.1 381.8 458.9 385.3C456.8 388.7 456.5 392.1 454.4 395.5C452.2 398.9 451.3 404.7 446.3 405.6C441.3 406.5 429.7 400.2 424.3 401.0C418.9 401.7 418.5 407.8 414.1 410.1C409.7 412.5 403.3 414.9 397.9 415.1C392.5 415.3 385.8 413.6 381.7 411.3C377.5 408.9 374.3 404.6 372.8 401.0C371.2 397.3 374.5 392.4 372.6 389.5C370.7 386.7 366.2 386.3 361.4 383.8C356.5 381.4 341.9 377.7 343.3 375.0C344.7 372.3 365.3 370.4 369.6 367.8C373.9 365.1 369.7 363.0 369.1 359.0C368.5 355.0 363.0 346.0 365.9 343.8C368.8 341.6 380.7 345.2 386.5 345.8C392.3 346.5 396.2 347.7 400.6 347.7C405.0 347.6 407.6 347.3 412.8 345.7C418.0 344.1 427.9 337.0 431.8 338.1C435.6 339.2 433.5 349.1 435.9 352.4C438.4 355.7 442.9 355.8 446.4 357.9C450.0 360.0 453.9 362.2 457.4 365.0C460.9 367.9 467.0 371.6 467.2 375.0Z"/>
<path d="M513.8 362.5C514.0 363.5 515.4 364.9 514.2 365.7C513.0 366.5 509.2 367.2 506.6 367.3C504.1 367.4 500.7 366.9 498.8 366.4C496.9 365.8 496.6 364.7 495.4 363.8C494.3 362.9 491.5 361.7 491.9 360.7C492.3 359.7 495.3 358.4 497.8 357.9C500.2 357.5 503.9 357.8 506.5 358.0C509.1 358.3 512.1 358.9 513.3 359.6C514.6 360.3 513.7 361.5 513.8 362.5Z"/>
<path d="M491.7 339.5C491.1 341.3 486.9 342.8 484.9 343.9C482.9 344.9 482.0 344.8 479.8 345.6C477.6 346.5 473.4 349.5 471.8 348.9C470.2 348.3 470.6 343.8 470.4 341.9C470.2 339.9 470.3 338.9 470.7 337.2C471.1 335.5 471.2 332.4 472.8 331.5C474.4 330.6 477.6 331.6 480.2 331.9C482.7 332.1 486.4 331.6 488.3 332.8C490.2 334.1 492.3 337.7 491.7 339.5Z"/>
<path d="M480.9 306.0C481.9 307.1 479.7 308.7 477.1 309.8C474.5 310.8 469.8 312.2 465.2 312.3C460.7 312.5 454.7 310.7 450.0 310.6C445.3 310.5 440.3 311.8 436.9 311.5C433.4 311.2 431.3 309.8 429.3 308.9C427.2 308.0 424.0 306.9 424.6 306.0C425.2 305.1 430.3 304.3 432.8 303.6C435.3 302.9 436.8 302.3 439.7 301.7C442.5 301.1 446.5 300.2 450.0 300.2C453.5 300.2 457.0 301.1 460.5 301.6C464.1 302.1 467.7 302.3 471.1 303.1C474.5 303.8 480.0 304.9 480.9 306.0Z"/>
<path d="M575.1 304.0C575.3 304.9 574.9 306.3 572.3 306.8C569.7 307.3 563.6 306.8 559.6 307.1C555.5 307.5 550.7 309.1 547.9 308.9C545.1 308.7 545.0 306.8 542.9 305.9C540.8 305.1 535.1 304.6 535.3 304.0C535.4 303.4 541.5 302.9 543.8 302.2C546.0 301.5 546.0 299.9 548.6 299.6C551.3 299.4 555.7 300.7 559.5 300.9C563.2 301.2 568.6 300.9 571.2 301.4C573.9 301.9 575.0 303.1 575.1 304.0Z"/>
<path d="M596.5 321.5C596.5 322.5 597.2 323.9 596.1 324.6C594.9 325.3 591.3 325.8 589.5 325.7C587.7 325.5 586.6 324.3 585.0 323.6C583.5 322.9 580.6 322.3 580.4 321.5C580.2 320.7 582.3 319.3 583.8 318.8C585.3 318.4 587.4 319.0 589.5 318.9C591.6 318.8 595.0 318.0 596.1 318.4C597.3 318.8 596.5 320.5 596.5 321.5Z"/>
<path d="M595.0 337.0C595.1 337.6 592.3 338.4 590.9 338.8C589.5 339.2 588.2 339.4 586.5 339.5C584.8 339.6 581.8 339.7 580.9 339.2C580.0 338.8 580.9 337.8 580.9 337.0C580.8 336.2 579.4 335.1 580.4 334.6C581.3 334.0 584.8 333.4 586.5 333.6C588.2 333.7 589.0 334.8 590.4 335.4C591.9 336.0 595.0 336.4 595.0 337.0Z"/>
<path d="M601.6 347.0C602.4 347.8 600.3 348.8 598.1 349.6C595.8 350.4 591.8 351.7 588.1 351.8C584.3 351.9 578.7 350.7 575.5 350.2C572.2 349.7 571.6 349.3 568.6 348.8C565.6 348.3 557.9 347.7 557.5 347.0C557.1 346.3 563.3 345.5 566.2 344.9C569.1 344.3 571.3 343.9 574.9 343.5C578.5 343.1 584.5 342.3 587.6 342.5C590.7 342.8 591.1 344.3 593.5 345.1C595.8 345.8 600.9 346.2 601.6 347.0Z"/>
<path d="M626.1 383.0C626.1 384.0 625.0 384.9 624.0 386.0C623.0 387.1 622.2 389.3 619.9 389.7C617.5 390.2 612.8 389.1 609.9 388.7C607.0 388.3 605.1 387.8 602.6 387.2C600.2 386.6 596.3 385.9 595.1 384.9C593.9 383.9 594.4 382.2 595.5 381.1C596.7 380.1 599.8 379.3 602.1 378.6C604.4 377.8 606.5 377.0 609.6 376.5C612.7 376.0 618.5 374.8 620.9 375.4C623.3 376.0 623.1 378.7 624.0 380.0C624.9 381.3 626.1 382.0 626.1 383.0Z"/>
<path d="M641.3 339.5C641.5 340.3 639.3 341.3 637.8 342.1C636.4 343.0 634.7 344.7 632.7 344.8C630.7 344.9 627.9 343.6 625.9 342.9C623.9 342.3 621.3 341.9 620.6 341.0C619.8 340.2 620.7 339.0 621.5 338.1C622.3 337.2 623.6 336.5 625.5 335.8C627.4 335.1 630.9 333.6 632.8 333.9C634.7 334.1 635.3 336.3 636.8 337.2C638.2 338.2 641.1 338.7 641.3 339.5Z"/>
<path d="M668.3 328.5C667.6 329.5 665.6 330.5 663.6 331.1C661.6 331.6 659.0 331.5 656.2 331.8C653.5 332.0 649.2 333.1 647.2 332.7C645.1 332.4 644.5 330.7 643.9 329.8C643.3 328.9 642.8 328.0 643.5 327.2C644.2 326.3 645.9 325.4 648.1 324.8C650.4 324.3 653.8 323.7 657.0 323.7C660.3 323.7 665.8 324.0 667.7 324.8C669.6 325.6 669.0 327.5 668.3 328.5Z"/>
<path d="M721.4 339.5C720.4 340.3 721.2 340.8 719.8 341.4C718.5 342.0 716.6 342.8 713.4 343.3C710.1 343.8 703.9 344.6 700.2 344.4C696.6 344.2 693.8 342.9 691.5 342.2C689.1 341.6 687.1 341.1 686.0 340.5C684.8 339.9 684.4 339.2 684.4 338.4C684.4 337.6 683.2 336.0 686.0 335.6C688.8 335.2 696.4 336.1 701.3 335.9C706.1 335.8 711.2 334.7 715.3 334.9C719.4 335.0 725.0 336.1 726.0 336.8C727.0 337.6 722.5 338.7 721.4 339.5Z"/>
<path d="M749.3 328.0C747.9 328.8 749.5 329.3 748.0 329.8C746.4 330.4 743.4 330.7 739.9 331.2C736.3 331.7 730.9 332.9 726.8 332.8C722.7 332.8 718.9 331.6 715.3 331.0C711.7 330.4 705.5 329.9 705.1 329.3C704.8 328.6 711.4 327.8 713.1 327.1C714.8 326.4 712.9 325.6 715.2 325.0C717.5 324.3 722.6 323.4 726.9 323.3C731.2 323.2 736.2 324.0 741.1 324.3C746.0 324.7 754.8 324.7 756.2 325.3C757.6 325.9 750.7 327.2 749.3 328.0Z"/>
<path d="M794.5 323.5C794.5 325.3 793.8 327.3 792.4 328.9C791.1 330.5 788.6 332.7 786.4 333.0C784.1 333.3 781.2 331.3 778.8 330.6C776.3 329.9 773.4 330.1 771.5 328.9C769.6 327.7 767.6 325.4 767.4 323.5C767.1 321.6 768.1 318.5 770.1 317.4C772.0 316.2 776.3 317.3 778.9 316.8C781.6 316.4 783.8 314.5 786.0 314.7C788.3 315.0 790.9 316.7 792.3 318.2C793.8 319.6 794.5 321.7 794.5 323.5Z"/>
<path d="M773.2 374.0C772.8 376.1 772.7 378.0 773.1 380.3C773.4 382.6 776.6 385.5 775.2 387.8C773.7 390.1 769.0 392.3 764.3 394.1C759.6 395.9 754.4 398.4 747.2 398.6C740.0 398.8 728.0 394.2 721.3 395.1C714.5 396.0 712.1 403.7 706.6 404.0C701.1 404.2 693.7 398.3 688.3 396.6C682.8 394.8 677.8 394.7 674.1 393.4C670.3 392.0 671.2 389.2 666.0 388.3C660.9 387.4 646.2 389.4 643.2 388.2C640.1 387.0 648.4 383.1 647.7 381.1C647.1 379.2 643.1 378.3 639.5 376.6C635.9 374.9 628.6 372.9 626.2 370.8C623.7 368.7 623.2 365.9 624.8 363.8C626.3 361.6 628.5 358.6 635.4 357.9C642.3 357.2 659.1 359.8 666.2 359.8C673.4 359.7 674.3 358.6 678.2 357.6C682.1 356.6 685.0 355.0 689.5 353.7C694.1 352.3 699.3 350.5 705.6 349.4C711.9 348.2 720.5 346.7 727.1 346.8C733.7 347.0 739.1 349.2 745.4 350.3C751.8 351.4 761.9 351.7 765.3 353.6C768.8 355.5 764.7 359.5 766.3 361.9C767.9 364.2 773.9 365.6 775.0 367.6C776.2 369.6 773.5 371.9 773.2 374.0Z"/>
<path d="M650.8 386.0C650.9 387.8 652.1 389.7 650.3 391.3C648.5 392.9 644.0 394.3 639.9 395.4C635.8 396.5 630.2 398.1 625.6 398.0C621.1 397.8 617.8 394.8 612.6 394.2C607.4 393.6 597.9 395.3 594.6 394.4C591.3 393.4 593.6 390.3 592.8 388.5C592.0 386.6 589.3 385.0 590.0 383.3C590.7 381.6 594.0 379.9 597.1 378.4C600.3 376.9 604.4 374.6 609.0 374.4C613.5 374.2 619.9 376.7 624.5 377.3C629.1 378.0 632.3 377.8 636.5 378.4C640.7 379.0 647.4 379.5 649.8 380.8C652.2 382.1 650.7 384.2 650.8 386.0Z"/>
<path d="M670.1 355.0C670.3 356.1 671.4 357.8 670.1 358.6C668.7 359.4 664.7 360.0 662.0 360.0C659.3 360.0 655.9 359.3 654.1 358.5C652.4 357.7 651.5 356.2 651.5 355.0C651.6 353.8 652.6 352.1 654.3 351.6C656.0 351.1 659.6 352.1 662.0 352.1C664.4 352.2 667.5 351.5 668.8 352.0C670.2 352.5 669.9 353.9 670.1 355.0Z"/>
<path d="M797.0 378.5C796.8 379.4 793.3 380.2 791.5 381.0C789.6 381.8 788.3 383.1 786.0 383.3C783.7 383.5 779.6 383.1 777.6 382.3C775.6 381.5 773.9 379.7 774.1 378.5C774.3 377.3 776.9 376.1 778.9 375.3C780.8 374.5 783.7 373.6 786.0 373.7C788.3 373.7 790.7 374.7 792.6 375.6C794.4 376.4 797.2 377.6 797.0 378.5Z"/>
<path d="M546.8 285.0C546.9 285.7 543.0 286.4 540.7 287.1C538.4 287.8 536.5 288.9 533.0 289.1C529.6 289.2 524.6 288.1 520.1 288.0C515.6 287.9 509.1 288.7 506.1 288.4C503.2 288.0 503.5 286.8 502.4 286.0C501.3 285.3 498.3 284.4 499.6 283.8C500.9 283.2 507.2 282.9 510.5 282.5C513.8 282.1 516.2 281.5 519.6 281.4C522.9 281.3 527.3 281.6 530.6 281.8C534.0 282.1 536.9 282.5 539.6 283.0C542.3 283.6 546.6 284.3 546.8 285.0Z"/>
<path d="M664.1 279.0C664.3 279.7 664.9 280.5 662.9 281.0C660.9 281.5 656.0 281.7 652.3 282.0C648.6 282.3 644.9 282.7 640.8 282.7C636.7 282.7 631.3 282.5 627.7 282.1C624.1 281.7 619.7 280.9 619.1 280.2C618.5 279.5 622.4 278.7 624.1 278.0C625.9 277.4 626.7 276.6 629.5 276.2C632.4 275.8 636.8 276.0 641.2 275.8C645.6 275.5 652.3 274.5 655.7 274.7C659.2 274.9 660.5 276.4 661.9 277.1C663.3 277.8 663.9 278.3 664.1 279.0Z"/>
<path d="M739.4 280.5C741.1 281.1 743.3 282.4 740.5 282.8C737.7 283.2 727.4 282.7 722.7 282.8C717.9 283.0 716.6 283.4 711.9 283.5C707.2 283.7 698.2 284.2 694.4 283.8C690.5 283.5 688.5 282.3 688.8 281.6C689.1 280.9 694.1 280.3 696.0 279.7C697.9 279.1 697.6 278.6 700.0 278.1C702.5 277.5 706.5 276.4 710.7 276.3C714.9 276.2 721.7 277.0 725.0 277.4C728.3 277.9 728.1 278.6 730.5 279.1C732.9 279.6 737.8 279.9 739.4 280.5Z"/>
<path d="M598.7 287.5C598.1 288.1 596.0 288.8 593.7 289.2C591.5 289.7 588.6 289.8 585.0 290.2C581.5 290.6 576.0 291.7 572.4 291.6C568.7 291.5 565.5 290.3 563.1 289.6C560.7 289.0 557.8 288.2 557.9 287.5C557.9 286.8 560.6 285.9 563.3 285.4C566.1 284.9 570.3 284.7 574.2 284.4C578.2 284.1 583.2 283.6 587.0 283.7C590.8 283.9 594.9 284.7 596.9 285.4C598.8 286.0 599.2 286.9 598.7 287.5Z"/>
<path d="M452.0 283.5C451.6 284.0 443.4 284.4 440.4 284.9C437.5 285.4 437.2 286.0 434.1 286.3C431.0 286.5 426.6 286.4 422.0 286.4C417.4 286.5 410.4 286.8 406.5 286.5C402.6 286.2 400.4 285.3 398.6 284.6C396.9 283.9 393.4 282.8 395.7 282.3C398.0 281.8 408.1 281.8 412.4 281.5C416.7 281.1 418.2 280.2 421.6 280.2C425.0 280.1 429.1 280.9 432.7 281.2C436.2 281.4 439.5 281.5 442.7 281.9C445.9 282.3 452.3 283.0 452.0 283.5Z"/>
<path d="M384.8 304.0C385.2 304.8 389.6 306.1 388.0 306.6C386.3 307.1 378.9 306.9 374.9 307.0C370.9 307.2 367.7 307.8 363.9 307.7C360.2 307.6 355.1 307.2 352.3 306.6C349.4 306.0 346.4 304.8 346.7 304.0C347.0 303.2 351.4 302.3 354.2 301.7C357.1 301.1 360.4 300.3 363.8 300.2C367.2 300.1 370.9 301.0 374.5 301.2C378.1 301.5 383.8 301.3 385.6 301.7C387.3 302.2 384.4 303.2 384.8 304.0Z"/>
<path d="M758.5 304.0C758.1 304.7 758.3 305.4 756.6 306.0C754.9 306.7 752.5 308.0 748.0 308.2C743.6 308.4 735.1 307.5 730.0 307.3C724.9 307.1 720.5 307.2 717.3 306.9C714.1 306.6 712.7 306.0 710.9 305.5C709.1 305.0 706.4 304.5 706.4 304.0C706.5 303.5 709.3 303.0 711.2 302.6C713.1 302.1 714.7 301.6 717.9 301.2C721.0 300.8 724.8 300.2 730.0 300.0C735.2 299.7 744.3 299.3 749.1 299.6C753.9 299.9 757.2 301.0 758.8 301.8C760.4 302.5 758.8 303.3 758.5 304.0Z"/>
<path d="M677.4 303.0C677.1 303.6 678.2 304.4 676.1 304.8C674.0 305.1 668.3 305.0 664.7 305.2C661.1 305.3 657.2 305.7 654.4 305.6C651.5 305.5 649.2 304.8 647.7 304.3C646.2 303.9 645.8 303.5 645.5 303.0C645.2 302.5 644.2 301.8 645.8 301.5C647.4 301.1 651.9 300.9 655.1 300.8C658.4 300.6 661.7 300.4 665.5 300.4C669.4 300.5 676.4 300.6 678.4 301.0C680.4 301.4 677.8 302.4 677.4 303.0Z"/>
<path d="M784.3 348.5C784.8 349.1 778.3 349.9 775.3 350.4C772.3 351.0 770.3 351.7 766.5 352.0C762.7 352.3 755.9 352.8 752.6 352.5C749.2 352.2 748.4 350.9 746.3 350.2C744.2 349.6 740.4 349.1 739.8 348.5C739.3 347.9 741.0 347.0 743.1 346.3C745.1 345.7 748.7 344.4 752.3 344.3C755.9 344.3 761.2 345.6 764.6 346.0C767.9 346.5 769.0 346.5 772.3 346.9C775.6 347.3 783.8 347.9 784.3 348.5Z"/>
</g>
  <!-- CONCRETE MASS -->
  <rect x="0" y="498" width="794" height="228" fill="#95978f"/>
  <rect x="0" y="498" width="794" height="228" filter="url(#grain)" opacity="0.17"/>
  <rect x="0" y="498" width="794" height="228" filter="url(#grainL)" opacity="0.11"/>
  <rect x="0" y="498" width="794" height="228" filter="url(#mottle)" opacity="0.13"/>
  <rect x="0" y="498" width="794" height="228" filter="url(#cloudD)" opacity="0.10"/>
  <!-- BOTTOM LIGHT BAND -->
  <rect x="0" y="725" width="794" height="116" fill="#d9dada"/>
  <ellipse cx="10" cy="825" rx="90" ry="28" fill="#8d8b8b" opacity="0.45" filter="url(#blur8)"/>
  <ellipse cx="15" cy="760" rx="45" ry="30" fill="#9a9a9a" opacity="0.35" filter="url(#blur8)"/>
  <rect x="0" y="725" width="794" height="116" filter="url(#cloudD)" opacity="0.07"/>
  <rect x="0" y="725" width="794" height="116" filter="url(#cloudL)" opacity="0.3"/>
  <rect x="0" y="725" width="794" height="116" filter="url(#cloudH)" opacity="0.12"/>
  <rect x="0" y="725" width="794" height="116" filter="url(#grain)" opacity="0.07"/>
  <rect x="0" y="724.5" width="794" height="2.2" fill="#b9b9b6"/>
  <rect x="0" y="722" width="794" height="3" fill="#5d5f5a" opacity="0.45"/>
  <!-- TILE FRONT FACES -->
  <g>
    <rect x="0" y="437" width="794" height="31" fill="#cac8c3"/>
    <rect x="0" y="437" width="794" height="31" filter="url(#grain)" opacity="0.10"/>
    <rect x="0" y="437" width="794" height="31" filter="url(#grainL)" opacity="0.22"/>
    <rect x="0" y="436.4" width="794" height="1.6" fill="#d9d9d6" opacity="0.8"/>
  </g>
  <!-- ribbed adhesive -->
  <rect x="0" y="467.6" width="160" height="12.4" fill="url(#ribs3)"/>
  <rect x="160" y="467.6" width="360" height="12.4" fill="url(#ribs)"/>
  <rect x="520" y="467.6" width="274" height="12.4" fill="url(#ribs2)"/>
  <rect x="0" y="467" width="794" height="1.6" fill="#3d3d3d"/>
  <!-- brown grey -->
  <rect x="0" y="479.8" width="794" height="8.2" fill="#a9a09b"/>
  <rect x="0" y="479.8" width="794" height="1" fill="#b8b0ab"/>
  <!-- blue membrane -->
  <rect x="0" y="487.8" width="794" height="7.4" fill="url(#blueG)"/>
  <rect x="0" y="494.8" width="794" height="1.2" fill="#4f7db3"/>
  <rect x="0" y="496" width="794" height="11.6" fill="url(#blueG2)"/>
  <rect x="0" y="507.2" width="794" height="1.2" fill="#5c6a78" opacity="0.7"/>
  <!-- white strip -->
  <path d="M0 495.6 L588 495.6 L591 499.8 L0 499.8Z" fill="#dfe2e4"/>
  <path d="M0 499.3 L590 499.3" stroke="#9aa3ad" stroke-width="0.8"/>
  <!-- left: concrete under blue (x<21 blue continues 500..509) -->
  <!-- joint gap between right tiles -->
  <path d="M582.4 436.4 L589.4 436.4 L589.8 468 L583.4 468Z" fill="#3c3e3e"/>
  <path d="M588.2 436.4 L589.4 436.4 L589.8 468 L588.6 468Z" fill="#8a8b88"/>
  <path d="M581.6 429 L589.4 436.6 L582.4 436.6Z" fill="#5a5c5b"/>
<path d="M221.4 289.3 L337 289.3 L336.5 520 L143 520 L142 500 L147.7 437Z" fill="#1b1c1e"/>
<path d="M68 570 L145 570 L145 516 L371 516 L371 640 L392 640 L391.0 641.0C393.3 639.5 401.0 634.4 405.0 631.8C409.0 629.2 411.7 627.7 415.0 625.5C418.3 623.3 421.7 620.9 425.0 618.5C428.3 616.1 431.7 613.7 435.0 611.0C438.3 608.3 441.7 605.3 445.0 602.5C448.3 599.7 451.7 596.6 455.0 594.0C458.3 591.4 461.7 589.4 465.0 587.0C468.3 584.6 472.5 581.3 475.0 579.5C477.5 577.7 477.5 577.7 480.0 576.0C482.5 574.3 486.7 571.5 490.0 569.5C493.3 567.5 496.7 565.7 500.0 564.0C503.3 562.3 507.2 560.7 510.0 559.5C512.8 558.3 513.7 558.0 517.0 557.0C520.3 556.0 525.3 554.4 530.0 553.5C534.7 552.6 540.7 551.9 545.0 551.5C549.3 551.1 550.2 551.2 556.0 551.0C561.8 550.8 569.3 550.7 580.0 550.5C590.7 550.3 613.3 550.1 620.0 550.0 L714 550 L714 574 L746 574 L757 565 L794 565 L794 697 L704 697 L704.0 697.0C700.8 696.8 692.3 696.5 685.0 695.5C677.7 694.5 668.3 693.2 660.0 691.0C651.7 688.8 641.2 685.6 635.0 682.5C628.8 679.4 626.7 677.1 622.5 672.5C618.3 667.9 614.2 662.1 610.0 655.0C605.8 647.9 601.3 638.3 597.5 630.0C593.7 621.7 589.9 610.8 587.0 605.0C584.1 599.2 582.8 597.3 580.0 595.0C577.2 592.7 573.3 592.1 570.0 591.0C566.7 589.9 563.3 589.0 560.0 588.5C556.7 588.0 553.3 588.1 550.0 588.2C546.7 588.3 543.3 588.6 540.0 589.0C536.7 589.4 533.3 590.0 530.0 590.8C526.7 591.6 523.3 592.5 520.0 593.7C516.7 594.9 513.3 596.4 510.0 598.0C506.7 599.6 503.3 601.4 500.0 603.5C496.7 605.6 492.5 608.3 490.0 610.5C487.5 612.7 487.5 613.8 485.0 616.5C482.5 619.2 478.3 623.8 475.0 627.0C471.7 630.2 468.3 632.6 465.0 635.5C461.7 638.4 458.3 641.6 455.0 644.5C451.7 647.4 448.3 650.6 445.0 653.0C441.7 655.4 440.8 656.5 435.0 659.0C429.2 661.5 418.2 665.3 410.0 668.2C401.8 671.1 394.0 673.8 386.0 676.6C378.0 679.4 370.0 682.5 362.0 685.0C354.0 687.5 346.0 689.7 338.0 691.6C330.0 693.5 322.0 695.3 314.0 696.6C306.0 697.9 297.3 698.9 290.0 699.6C282.7 700.3 280.3 700.6 270.0 700.8C259.7 701.0 243.0 701.0 228.0 700.6C213.0 700.2 196.0 699.4 180.0 698.3C164.0 697.2 143.7 695.2 132.0 694.0C120.3 692.8 117.1 692.0 110.0 690.8C102.9 689.6 92.8 687.6 89.3 687.0 L89.3 630 L75 608Z" fill="#292b2e"/>
<!-- channel interior -->
<linearGradient id="chanIn" gradientUnits="userSpaceOnUse" x1="150" y1="0" x2="336" y2="0">
  <stop offset="0" stop-color="#2a2b2d"/>
  <stop offset="0.15" stop-color="#1d1e20"/>
  <stop offset="0.8" stop-color="#18191b"/>
  <stop offset="1" stop-color="#232426"/>
</linearGradient>
<path d="M150 437 L336 437 L336 560 L150 560Z" fill="url(#chanIn)"/>
<!-- left channel wall (cut face, slanted) -->
<path d="M149.5 440 L166 437 L158 505 L150 545 L145 545 L143 505Z" fill="#3a3b3d"/>
<path d="M149.5 467 L152.5 437 L160 437 L151 500 L146 520 L143 505Z" fill="#58595b"/>
<!-- right channel wall -->
<path d="M324 437 L336 437 L336 545 L328 545Z" fill="#2c2d2f"/>
<path d="M68 516 L136 516 L136 572 L68 572Z" fill="#2d2e30"/>
<!-- outer bowl rings (body inner, left) -->
<path d="M89.3 606 C115 598 150 592 178 590 L181 603 C150 606 115 612 89.3 620Z" fill="#4d4f52"/>

<linearGradient id="floorBody" gradientUnits="userSpaceOnUse" x1="89" y1="0" x2="420" y2="0">
  <stop offset="0" stop-color="#5c5e61"/>
  <stop offset="0.3" stop-color="#4e5053"/>
  <stop offset="0.65" stop-color="#3a3c40"/>
  <stop offset="1" stop-color="#2c2e31"/>
</linearGradient>
<path d="M89.3 600 L150 590 L200 640 L330 664 L300 600 L372 640 L372 664 L89.3 664Z" fill="#1f2123" opacity="0.55"/>
<path d="M89.3 652 C120 642 160 637.5 204 637.5 C250 640 300 650 340 660 C360 664 380 664 400 660 C420 654 440 646 456 638 L470 632 L440 660 L400 676 L340 694 L270 702 L180 700 L89.3 688Z" fill="url(#floorBody)"/>
<!-- grate -->
<path d="M156 520 C168 512 186 508 201 507 L279 507 C296 508 311 514 322 525 L322 545 L156 545Z" fill="#202123"/>
<g stroke="#36383a" stroke-width="4.6" fill="none" stroke-linecap="round">
  <path d="M157 521 C170 513 187 509.4 201 508.8 L279 508.8 C296 509.6 311 516 321 525"/>
  <path d="M186 517.5 L296 517.5"/>
  <path d="M172 526.5 L312 526.5"/>
  <path d="M201 509 L194 528"/>
  <path d="M239 509 L239 528"/>
  <path d="M279 509 L286 528"/>
  <path d="M176 516 L164 532"/>
  <path d="M304 516 L316 532"/>
</g>
<g stroke="#55575a" stroke-width="1.2" fill="none" stroke-linecap="round">
  <path d="M158 519.2 C171 511.2 187 507.4 201 506.8 L279 506.8 C296 507.6 311 514 320 523"/>
  <path d="M188 515.6 L294 515.6"/>
  <path d="M174 524.6 L310 524.6"/>
</g>
<!-- dome + ledge + cup (cut faces) -->
<path d="M157.5 561 L160 552 C175 538 190 529 203 527.5 L282 527.5 C296 530 312 542 328 560 L328 569 L318 569 C308 555 294 541 280 536.5 L205 536.5 C192 540 180 550 172 562 L184 570 C186 590 192 612 206 628 C218 640 240 642 286 645.5 L288 652 L306 654.6 C260 652 225 650 207 639 C190 626 180 600 174 570 L145 570 L145 561Z" fill="#5e6063" stroke="#737578" stroke-width="0.7"/>
<!-- cup interior -->
<linearGradient id="cupG" gradientUnits="userSpaceOnUse" x1="184" y1="0" x2="300" y2="0">
  <stop offset="0" stop-color="#303133"/>
  <stop offset="0.2" stop-color="#4a4c4e"/>
  <stop offset="0.5" stop-color="#3c3e40"/>
  <stop offset="0.7" stop-color="#2d2e30"/>
  <stop offset="1" stop-color="#252628"/>
</linearGradient>
<path d="M205 536.5 L280 536.5 C290 540 300 548 306 556 L262 575 L268 585 L300 598 L300 646 L286 645.5 C240 642 218 640 206 628 C192 612 186 590 184 570 L172 562 C180 550 192 540 205 536.5Z" fill="url(#cupG)"/>
<path d="M219 540 L219 574 C219 592 233 603 252 607" fill="none" stroke="#7d7f81" stroke-width="9" stroke-linecap="round" filter="url(#blur2)" opacity="0.85"/>
<path d="M200 600 C215 625 245 634 284 638" fill="none" stroke="#4a4c4f" stroke-width="8" filter="url(#blur2)" opacity="0.7"/>
<!-- cup right wall (dark curved) -->
<path d="M262 577 C262 583 266 590 286 597 C296 610 300 630 300 652 L288 652 L286 645.5 C284 625 278 608 262 590Z" fill="#1f2022"/>
<!-- right ledge block -->
<path d="M306 556 L332 556 L332 570 L310 570Z" fill="#4c4e51"/>
<circle cx="324" cy="558" r="2.6" fill="#2a2b2d" stroke="#66686b" stroke-width="0.7"/>
<!-- cup right wall faces -->
<path d="M281 596 C286 610 289 630 289.7 648.6 L308 652 C306 630 300 612 294 598Z" fill="#2b2d30"/>
<!-- horn -->
<linearGradient id="hornG" gradientUnits="userSpaceOnUse" x1="298" y1="0" x2="378" y2="0">
  <stop offset="0" stop-color="#4a4c4f"/>
  <stop offset="0.4" stop-color="#54565a"/>
  <stop offset="0.8" stop-color="#45474a"/>
  <stop offset="1" stop-color="#37393c"/>
</linearGradient>
<path d="M298 600 L339 604 C355 609 369 619 377 631 L337 626 L308 626 C305 617 302 608 298 600Z" fill="url(#hornG)"/>
<path d="M308 626 L337 626 L377 631 L372 636 C350 634 325 632 311 631Z" fill="#1f2123"/>
<path d="M308.4 625.5 L320 611 L337.5 625.5Z" fill="#75777a"/>
<path d="M320 611 L337.5 625.5 L352 627 C345 618 333 612 320 611Z" fill="#5f6164" opacity="0.8"/>
<path d="M339 599 C356 604 370 616 378 630" fill="none" stroke="#5d5f62" stroke-width="4.5" stroke-linecap="round"/>
<!-- flap -->
<path d="M258 569.6 L262 568 L266 576 L346 594.5 L346 597 L262.5 579.5 L258 576Z" fill="#2f3134"/>
<path d="M262.5 579 L345.8 596 L346.5 600 L339 604.4 L260 588Z" fill="#6a6c6f"/>
<path d="M260 585 L339 602 L339 604.4 L260 588Z" fill="#505255"/>
<rect x="258.6" y="580.6" width="5" height="5" rx="1" fill="#37393c"/>
<!-- socket interior gradient -->
<linearGradient id="sockV" gradientUnits="userSpaceOnUse" x1="0" y1="550" x2="0" y2="700">
  <stop offset="0" stop-color="#505153"/>
  <stop offset="0.35" stop-color="#656668"/>
  <stop offset="0.75" stop-color="#505153"/>
  <stop offset="1" stop-color="#38393b"/>
</linearGradient>
<path d="M566 550 L714 550 L714 697 L702 697 C680 695 655 690 635 682 C615 668 605 640 592 612 C585 598 575 590 560 589 C575 575 572 558 566 550Z" fill="url(#sockV)"/>
<!-- dark shadow lower left of socket -->
<path d="M592 612 C605 640 615 668 635 682 C655 690 680 695 702 697 L700 690 C670 680 640 665 615 625Z" fill="#1f2022" opacity="0.85"/>
<path d="M566 550 C590 560 600 590 610 640 L596 618 C588 600 578 590 560 589 C575 575 572 558 566 550Z" fill="#242527" opacity="0.7"/>
<path d="M696 550 L714 550 L714 573 C706 566 700 558 696 550Z" fill="#2a2b2d"/>
<!-- big pipe -->
<linearGradient id="pipeV" gradientUnits="userSpaceOnUse" x1="0" y1="556" x2="0" y2="700">
  <stop offset="0" stop-color="#6e6f71"/>
  <stop offset="0.22" stop-color="#8b8c8e"/>
  <stop offset="0.5" stop-color="#77787a"/>
  <stop offset="0.8" stop-color="#5a5b5d"/>
  <stop offset="1" stop-color="#434446"/>
</linearGradient>
<path d="M713 565 L800 556 L800 697.5 L703 697.5 C690 670 676 640 677.5 612 C680 590 695 575 713 565Z" fill="url(#pipeV)"/>
<path d="M713 565 C695 575 680 590 677.5 612 C676 640 690 670 703 697.5" fill="none" stroke="#9a9b9d" stroke-width="1" opacity="0.6"/>
<g fill="#d8d7da" stroke="#9c9b9f" stroke-width="0.6" stroke-linejoin="round">
<path d="M89.3 696.4C92.8 696.9 102.9 698.7 110.0 699.6C117.1 700.5 120.3 700.8 132.0 702.0C143.7 703.2 164.0 705.6 180.0 706.8C196.0 708.0 213.0 708.8 228.0 709.2C243.0 709.6 259.7 709.4 270.0 709.2C280.3 709.0 282.7 708.4 290.0 707.8C297.3 707.2 306.0 706.5 314.0 705.4C322.0 704.3 330.0 703.0 338.0 701.2C346.0 699.4 354.0 697.1 362.0 694.6C370.0 692.1 378.0 689.0 386.0 686.2C394.0 683.4 402.0 680.9 410.0 677.8C418.0 674.7 428.2 670.2 434.0 667.6C439.8 665.0 441.5 663.9 445.0 662.0C448.5 660.1 451.7 658.3 455.0 656.0C458.3 653.7 461.7 650.8 465.0 648.0C468.3 645.2 471.7 642.0 475.0 639.0C478.3 636.0 482.5 632.2 485.0 629.7C487.5 627.2 487.5 626.5 490.0 624.0C492.5 621.5 496.7 617.7 500.0 615.0C503.3 612.3 506.7 610.0 510.0 608.0C513.3 606.0 516.7 604.3 520.0 603.0C523.3 601.7 526.7 600.8 530.0 600.0C533.3 599.2 536.7 598.5 540.0 598.0C543.3 597.5 546.7 597.3 550.0 597.2C553.3 597.1 556.7 597.0 560.0 597.5C563.3 598.0 566.7 598.8 570.0 600.0C573.3 601.2 577.0 601.7 580.0 605.0C583.0 608.3 584.7 612.2 588.0 620.0C591.3 627.8 596.3 643.2 600.0 652.0C603.7 660.8 604.2 665.8 610.0 672.5C615.8 679.2 626.7 687.8 635.0 692.5C643.3 697.2 651.7 698.9 660.0 701.0C668.3 703.1 676.3 704.2 685.0 705.0C693.7 705.8 707.5 705.8 712.0 706.0 L704.0 697.0C700.8 696.8 692.3 696.5 685.0 695.5C677.7 694.5 668.3 693.2 660.0 691.0C651.7 688.8 641.2 685.6 635.0 682.5C628.8 679.4 626.7 677.1 622.5 672.5C618.3 667.9 614.2 662.1 610.0 655.0C605.8 647.9 601.3 638.3 597.5 630.0C593.7 621.7 589.9 610.8 587.0 605.0C584.1 599.2 582.8 597.3 580.0 595.0C577.2 592.7 573.3 592.1 570.0 591.0C566.7 589.9 563.3 589.0 560.0 588.5C556.7 588.0 553.3 588.1 550.0 588.2C546.7 588.3 543.3 588.6 540.0 589.0C536.7 589.4 533.3 590.0 530.0 590.8C526.7 591.6 523.3 592.5 520.0 593.7C516.7 594.9 513.3 596.4 510.0 598.0C506.7 599.6 503.3 601.4 500.0 603.5C496.7 605.6 492.5 608.3 490.0 610.5C487.5 612.7 487.5 613.8 485.0 616.5C482.5 619.2 478.3 623.8 475.0 627.0C471.7 630.2 468.3 632.6 465.0 635.5C461.7 638.4 458.3 641.6 455.0 644.5C451.7 647.4 448.3 650.6 445.0 653.0C441.7 655.4 440.8 656.5 435.0 659.0C429.2 661.5 418.2 665.3 410.0 668.2C401.8 671.1 394.0 673.8 386.0 676.6C378.0 679.4 370.0 682.5 362.0 685.0C354.0 687.5 346.0 689.7 338.0 691.6C330.0 693.5 322.0 695.3 314.0 696.6C306.0 697.9 297.3 698.9 290.0 699.6C282.7 700.3 280.3 700.6 270.0 700.8C259.7 701.0 243.0 701.0 228.0 700.6C213.0 700.2 196.0 699.4 180.0 698.3C164.0 697.2 143.7 695.2 132.0 694.0C120.3 692.8 117.1 692.0 110.0 690.8C102.9 689.6 92.8 687.6 89.3 687.0Z"/>
<path d="M390.4 627.0C390.8 626.8 390.6 627.0 393.0 626.0C395.4 625.0 401.3 622.8 405.0 621.0C408.7 619.2 411.7 617.7 415.0 615.5C418.3 613.3 421.7 610.6 425.0 608.0C428.3 605.4 431.7 602.8 435.0 600.0C438.3 597.2 441.7 593.9 445.0 591.0C448.3 588.1 451.7 585.3 455.0 582.5C458.3 579.7 461.7 576.6 465.0 574.0C468.3 571.4 472.5 568.5 475.0 567.0C477.5 565.5 477.5 566.0 480.0 564.8C482.5 563.5 486.7 561.3 490.0 559.5C493.3 557.7 496.7 555.7 500.0 554.0C503.3 552.3 506.7 550.8 510.0 549.5C513.3 548.2 516.7 547.0 520.0 546.0C523.3 545.0 526.7 544.2 530.0 543.5C533.3 542.8 536.7 542.4 540.0 542.0C543.3 541.6 546.7 541.4 550.0 541.2C553.3 541.0 555.0 541.1 560.0 541.0C565.0 540.9 570.0 540.8 580.0 540.8C590.0 540.8 613.3 541.0 620.0 541.0 L714 541 L714 550 L620 550 L620.0 550.0C613.3 550.1 590.7 550.3 580.0 550.5C569.3 550.7 561.8 550.8 556.0 551.0C550.2 551.2 549.3 551.1 545.0 551.5C540.7 551.9 534.7 552.6 530.0 553.5C525.3 554.4 520.3 556.0 517.0 557.0C513.7 558.0 512.8 558.3 510.0 559.5C507.2 560.7 503.3 562.3 500.0 564.0C496.7 565.7 493.3 567.5 490.0 569.5C486.7 571.5 482.5 574.3 480.0 576.0C477.5 577.7 477.5 577.7 475.0 579.5C472.5 581.3 468.3 584.6 465.0 587.0C461.7 589.4 458.3 591.4 455.0 594.0C451.7 596.6 448.3 599.7 445.0 602.5C441.7 605.3 438.3 608.3 435.0 611.0C431.7 613.7 428.3 616.1 425.0 618.5C421.7 620.9 418.3 623.3 415.0 625.5C411.7 627.7 409.0 629.2 405.0 631.8C401.0 634.4 393.3 639.5 391.0 641.0Z"/>
</g>
<path d="M700 545.5 L717.5 545.5 L717.5 569.5 L744 569.5 L757 560.5 L795 560.5" fill="none" stroke="#9c9b9f" stroke-width="10" stroke-linejoin="round"/>
<path d="M700 545.5 L717.5 545.5 L717.5 569.5 L744 569.5 L757 560.5 L795 560.5" fill="none" stroke="#d8d7da" stroke-width="8.8" stroke-linejoin="round"/>
<!-- concrete blocks behind flanges (left x<21 blue continues) -->
<rect x="0" y="499.8" width="21" height="8.6" fill="url(#blueG2)"/>
<!-- dark layers above flanges -->
<path d="M21 500 L143 500 L143 507.6 L21 507.6Z" fill="#47484a"/>
<path d="M334 499.8 L450.4 499.8 L450.4 507 L334 507Z" fill="#47484a"/>
<g fill="#d8d7da" stroke="#9c9b9f" stroke-width="0.6" stroke-linejoin="round">
  <!-- left flange + leg -->
  <path d="M22 507.4 L143 507.4 L145 509 L145 569 L153 569 L153 577 L140.5 577 L140.5 574 L136 574 L136 516 L22 516 Q20.5 512 22 507.4Z"/>
  <!-- left shell -->
  <path d="M67.5 569.5 L100 569.5 L100 607 L92.5 607 L92.5 574.5 L75 574.5 L75 606 L89.3 628 L89.3 708.5 L81 708.5 L81 631 L67.5 610Z"/>
  <!-- right flange + left leg -->
  <path d="M330.4 506.8 L450.4 506.8 L450.4 513.5 L449 515.6 L383.2 515.6 L383.2 560.4 L406.4 560.4 L406.4 599.6 L412.8 599.6 L412.8 606 L390.4 606 L390.4 626 L392 640 L390.4 644.4 L369.6 644.4 L369.6 636.4 L383.2 636.4 L383.2 629 L375 626 L371.2 600 L371.2 515.6 L336 515.6 L336 574.8 L333 577 L322.4 577 L322.4 568.4 L330.4 568.4Z"/>
</g>
<!-- bracket dark interior -->
<path d="M383.2 566.8 L400 566.8 L400 599.6 L383.2 599.6Z" fill="#232426"/>
<path d="M383.2 566.8 L400 572 L400 599.6 L383.2 599.6Z" fill="#2f3032"/>
<path d="M383.2 606 L390.4 606 L390.4 626 L383.2 629Z" fill="#d8d7da"/>
<!-- zone between right legs -->
<path d="M336 515.6 L371.2 515.6 L371.2 621 C362 610 350 602 339 598 L336 597Z" fill="#27282a"/>
<path d="M336 516 L371.2 516 L371.2 557 L336 556Z" fill="#38393b"/>
<path d="M336 556 L371.2 557 L371.2 567 L336 567Z" fill="#5d5e61"/>
<!-- left sloping wall of channel -->
<path d="M221.4 289.3 L233.5 290 L166.4 436.7 L147.7 436.7Z" fill="url(#leftWallG)"/>
<path d="M147.7 436.7 L166.4 436.7 L160 468 L142.5 500 L142 500Z" fill="#6d6e70" opacity="0.85"/>
<!-- tile side (left tile right face) -->
<path d="M147.7 437 L152.5 437 L147 467.6 L143 467.6Z" fill="#9c9d9c"/>
<!-- right black gap -->
<path d="M324.4 290 L337 289.3 L337 437 L315 436.7Z" fill="#141516"/>
<path d="M326 330 L336 330 L336 345 L325 345Z" fill="#2b2c2e"/>
<path d="M323 375 L336 375 L336 392 L322 392Z" fill="#2b2c2e"/>
<path d="M320 410 L336 410 L336 425 L319 425Z" fill="#303133"/>
<!-- cover plate -->
<path d="M233.5 290 L324.4 290 L315 436.7 L166.4 436.7Z" fill="url(#plateG)"/>
<path d="M233.5 290 L324.4 290" stroke="#3b3c3e" stroke-width="1.5"/>
<!-- U-section steel -->
<path d="M165.3 472.5 L165.3 437.5 Q165.3 435.6 167.5 435.6 L315 435.6 Q317.2 435.6 317.2 437.5 L317.2 472.5 L314 472.5 L314 439 L168.6 439 L168.6 472.5Z" fill="#e9e9eb" stroke="#8d8e91" stroke-width="0.5"/>
<!-- under-cover struts -->
<path d="M170 440 L313 440 L313 446 L170 446Z" fill="#232426"/>
<path d="M195.6 439 L224 439 L221 457 L199 457Z" fill="#2f3032"/>
<path d="M201 440 L206 440 L207 456 L203 456Z" fill="#4a4c4f"/>
<path d="M214 440 L219 440 L217.5 456 L214 456Z" fill="#45474a"/>
<path d="M283 439 L311.6 439 L309 457 L286 457Z" fill="#2b2c2e"/>
<path d="M289 440 L293 440 L293.5 456 L290.5 456Z" fill="#3f4144"/>
<path d="M176.6 462 C190 456.5 220 456.5 233.6 459 C232 464.5 222 466 205 466 C190 466 180 465 176.6 462Z" fill="#27282a"/>
<path d="M274.5 460 C285 456.5 305 456.5 315.4 459 L315.4 465 C300 467 283 466 274.5 460Z" fill="#252628"/>
<ellipse cx="210" cy="458.6" rx="6" ry="1.6" fill="#54565a"/>
<!-- left glassy face + blue strip -->
<path d="M152.8 437.5 L165.2 437.5 L165.2 470 L160 492 L146 506 L144 500 L149.5 467.6Z" fill="#5f666e"/>
<path d="M165.2 452 L165.2 472 L158 500 L150 512 L146 506 L160 480Z" fill="#2f3134"/>
<path d="M163.4 441 L156 470 L147.5 500" fill="none" stroke="#3f86c8" stroke-width="1.8"/>
<g fill="#9fb7c9" fill-opacity="0.9" stroke="#8aa6bb" stroke-width="0.4">
<path d="M260.0 325.5C260.1 326.0 258.8 326.7 257.7 327.2C256.6 327.7 254.9 328.5 253.7 328.4C252.4 328.3 250.8 327.3 250.2 326.6C249.7 326.0 249.7 325.0 250.3 324.4C250.9 323.7 252.5 322.7 253.7 322.6C254.9 322.5 256.5 323.4 257.6 323.9C258.6 324.4 260.0 325.0 260.0 325.5Z"/>
<path d="M296.0 336.0C295.9 337.1 298.4 338.5 297.0 339.4C295.7 340.2 291.2 340.6 287.9 341.2C284.5 341.8 280.5 343.1 277.0 343.0C273.5 342.9 269.6 341.6 267.0 340.8C264.4 339.9 263.1 338.8 261.6 337.7C260.1 336.6 257.0 335.0 258.2 334.0C259.4 333.0 265.7 332.7 268.8 331.9C272.0 331.1 273.9 329.3 277.1 329.2C280.3 329.0 284.5 330.2 288.0 330.7C291.4 331.3 296.4 331.6 297.7 332.5C299.0 333.4 296.1 334.9 296.0 336.0Z"/>
<path d="M283.0 348.2C283.0 348.7 282.5 349.4 281.8 349.7C281.1 349.9 279.8 349.9 278.8 349.8C277.8 349.7 276.2 349.6 275.7 349.2C275.3 348.8 275.5 347.9 276.0 347.4C276.5 346.9 277.7 346.4 278.6 346.3C279.6 346.3 280.9 346.6 281.6 346.9C282.4 347.2 283.0 347.8 283.0 348.2Z"/>
<path d="M274.7 369.0C274.4 370.5 273.8 371.8 272.4 373.2C271.1 374.5 269.3 376.6 266.7 377.2C264.0 377.8 260.3 376.7 256.5 376.7C252.6 376.7 245.7 378.3 243.5 377.4C241.4 376.4 244.3 373.0 243.7 371.1C243.0 369.3 239.0 367.8 239.5 366.4C240.0 364.9 244.1 363.8 246.8 362.5C249.5 361.2 252.4 358.5 255.5 358.4C258.7 358.2 262.7 360.8 265.8 361.8C268.9 362.8 272.8 363.2 274.3 364.4C275.7 365.6 275.0 367.6 274.7 369.0Z"/>
<path d="M295.1 369.5C295.2 370.1 293.3 371.1 292.0 371.5C290.7 371.8 289.0 371.7 287.5 371.6C285.9 371.5 283.2 371.3 282.5 370.8C281.9 370.3 283.0 369.1 283.7 368.5C284.5 367.8 285.9 366.8 287.1 366.8C288.4 366.7 289.9 367.5 291.2 367.9C292.6 368.4 295.0 368.9 295.1 369.5Z"/>
<path d="M227.6 379.0C227.6 379.8 226.2 380.5 225.4 381.1C224.6 381.6 223.4 382.5 222.6 382.3C221.8 382.2 221.1 381.0 220.6 380.2C220.2 379.4 219.7 378.2 220.0 377.6C220.4 376.9 221.8 376.4 222.8 376.3C223.7 376.1 225.0 376.1 225.8 376.5C226.6 377.0 227.7 378.2 227.6 379.0Z"/>
<path d="M286.2 387.8C286.3 388.4 285.0 389.5 283.7 390.0C282.3 390.4 279.8 390.5 278.1 390.4C276.3 390.2 274.0 389.7 273.3 389.0C272.5 388.4 272.9 387.2 273.7 386.6C274.5 385.9 276.5 385.2 278.1 385.1C279.6 385.0 281.6 385.5 282.9 385.9C284.3 386.4 286.1 387.1 286.2 387.8Z"/>
<path d="M215.7 396.5C215.8 397.2 215.9 398.1 214.8 398.6C213.7 399.0 210.5 399.2 209.0 399.0C207.5 398.8 206.2 398.0 205.7 397.4C205.2 396.8 205.3 396.3 205.9 395.6C206.4 395.0 207.4 393.8 208.8 393.6C210.2 393.4 213.2 394.1 214.4 394.6C215.5 395.1 215.6 395.8 215.7 396.5Z"/>
<path d="M243.7 414.5C243.7 415.2 240.5 416.1 238.8 416.7C237.0 417.3 235.1 418.0 233.3 418.0C231.6 418.0 229.4 417.2 228.2 416.6C227.1 416.0 226.5 415.2 226.5 414.5C226.5 413.8 227.0 413.0 228.2 412.4C229.3 411.8 231.6 410.8 233.3 410.8C235.1 410.8 237.1 411.7 238.8 412.3C240.5 412.9 243.7 413.8 243.7 414.5Z"/>
<path d="M286.2 416.3C286.3 417.1 285.4 418.3 284.2 418.7C283.0 419.1 280.6 418.8 278.8 418.7C277.0 418.5 274.5 418.3 273.7 417.7C272.8 417.0 272.9 415.7 273.7 414.9C274.5 414.2 276.7 413.3 278.4 413.1C280.1 413.0 282.7 413.5 284.0 414.1C285.3 414.6 286.2 415.5 286.2 416.3Z"/>
</g>
<g fill="#3a9fd8" stroke="#2b8cc4" stroke-width="0.6">
<path d="M350.0 474.5 C353.2 469.2 397.8 469.2 401.0 474.5 C400.4 477.4 396.2 477.4 395.6 476.3 L394.6 476.0 C394.0 479.2 389.8 479.2 389.2 476.3 L388.2 476.0 C387.6 479.2 383.5 479.2 382.8 476.3 L381.9 476.0 C381.2 479.2 377.1 479.2 376.5 476.3 L375.5 476.0 C374.9 479.2 370.7 479.2 370.1 476.3 L369.1 476.0 C368.5 479.2 364.3 479.2 363.7 476.3 L362.8 476.0 C362.1 479.2 358.0 479.2 357.3 476.3 L356.4 476.0 C355.7 477.4 351.6 477.4 351.0 476.3 L350.0 474.5Z"/>
<path d="M425.0 474.5 C428.1 469.2 458.9 469.2 462.0 474.5 C461.4 477.4 457.4 477.4 456.8 476.3 L455.8 476.0 C455.2 479.2 451.2 479.2 450.6 476.3 L449.7 476.0 C449.1 479.2 445.0 479.2 444.4 476.3 L443.5 476.0 C442.9 479.2 438.9 479.2 438.3 476.3 L437.3 476.0 C436.7 479.2 432.7 479.2 432.1 476.3 L431.2 476.0 C430.6 477.4 426.5 477.4 425.9 476.3 L425.0 474.5Z"/>
<path d="M486.0 474.5 C489.4 469.2 509.6 469.2 513.0 474.5 C512.3 477.4 507.9 477.4 507.3 476.3 L506.2 476.0 C505.6 479.2 501.2 479.2 500.5 476.3 L499.5 476.0 C498.8 479.2 494.4 479.2 493.8 476.3 L492.8 476.0 C492.1 477.4 487.7 477.4 487.0 476.3 L486.0 474.5Z"/>
<path d="M523.5 474.5 C526.7 469.2 545.8 469.2 549.0 474.5 C548.4 477.4 544.2 477.4 543.6 476.3 L542.6 476.0 C542.0 479.2 537.8 479.2 537.2 476.3 L536.2 476.0 C535.6 479.2 531.5 479.2 530.8 476.3 L529.9 476.0 C529.2 477.4 525.1 477.4 524.5 476.3 L523.5 474.5Z"/>
<path d="M567.0 474.5 C570.4 469.2 577.1 469.2 580.5 474.5 C579.8 477.4 575.4 477.4 574.8 476.3 L573.8 476.0 C573.1 477.4 568.7 477.4 568.0 476.3 L567.0 474.5Z"/>
<path d="M446.5 421.5C446.5 422.2 446.0 423.2 444.7 423.7C443.4 424.1 440.8 424.3 438.8 424.3C436.7 424.3 433.7 424.3 432.4 423.8C431.0 423.4 430.4 422.2 430.6 421.5C430.7 420.8 431.8 420.0 433.2 419.5C434.6 418.9 436.8 418.2 438.8 418.1C440.7 418.1 443.8 418.6 445.1 419.2C446.4 419.8 446.6 420.8 446.5 421.5Z" fill="#62b8ea" stroke="#3193cf" stroke-width="0.7"/>
<path d="M525.0 418.5C525.0 419.3 524.2 420.4 523.1 420.9C522.0 421.4 519.8 421.9 518.5 421.7C517.2 421.5 515.8 420.5 515.3 419.7C514.7 419.0 514.7 418.0 515.3 417.3C515.8 416.5 517.2 415.6 518.5 415.4C519.8 415.2 521.9 415.6 523.0 416.2C524.1 416.7 525.0 417.7 525.0 418.5Z" fill="#62b8ea" stroke="#3193cf" stroke-width="0.7"/>
<path d="M682.6 419.0C682.5 419.7 680.1 420.3 678.5 420.9C677.0 421.5 675.0 422.4 673.2 422.4C671.5 422.4 669.2 421.5 667.9 421.0C666.5 420.4 665.3 419.7 665.1 419.0C664.9 418.3 665.4 417.1 666.7 416.6C668.1 416.1 671.2 416.1 673.2 416.1C675.3 416.2 677.5 416.4 679.1 416.9C680.6 417.4 682.7 418.3 682.6 419.0Z" fill="#62b8ea" stroke="#3193cf" stroke-width="0.7"/>
</g>
<g fill="#3a93c4" fill-opacity="0.85">
<path d="M276.0 631.0C275.5 631.8 276.7 632.6 275.3 633.3C274.0 634.0 271.1 634.7 267.8 635.2C264.6 635.7 259.6 636.4 255.8 636.3C252.0 636.2 248.5 635.2 245.3 634.7C242.0 634.2 238.1 633.9 236.3 633.3C234.6 632.7 234.7 631.8 234.7 631.0C234.7 630.2 234.8 629.4 236.2 628.7C237.6 628.0 239.9 627.1 243.2 626.6C246.5 626.1 251.5 625.6 255.8 625.6C260.1 625.6 265.0 626.0 268.8 626.4C272.6 626.9 277.2 627.6 278.4 628.4C279.6 629.1 276.5 630.2 276.0 631.0Z"/>
<path d="M380.5 665.5C380.6 666.4 379.3 667.4 377.8 668.2C376.3 669.0 374.2 669.9 371.6 670.4C369.0 670.8 365.5 670.7 362.2 670.7C359.0 670.8 354.2 671.4 351.9 670.9C349.6 670.4 349.9 668.8 348.6 667.9C347.3 667.0 345.0 666.4 344.4 665.5C343.7 664.6 343.4 663.3 344.8 662.5C346.2 661.6 349.8 661.1 352.7 660.5C355.6 660.0 359.3 659.0 362.2 659.1C365.2 659.2 368.1 660.5 370.6 661.1C373.1 661.8 375.5 662.2 377.2 662.9C378.8 663.6 380.4 664.6 380.5 665.5Z"/>
<path d="M171.3 535.5C171.5 536.2 171.8 537.1 171.3 537.7C170.8 538.4 169.5 538.9 168.3 539.4C167.1 539.9 165.5 540.8 164.1 540.8C162.6 540.9 160.7 540.4 159.3 539.9C157.9 539.4 156.6 538.7 155.9 538.0C155.2 537.3 154.7 536.2 155.0 535.5C155.3 534.8 157.0 534.3 157.7 533.6C158.4 532.8 158.1 531.4 159.1 531.0C160.2 530.6 162.5 531.0 164.1 531.1C165.6 531.2 167.4 531.1 168.4 531.5C169.4 531.9 169.7 532.9 170.2 533.6C170.7 534.3 171.1 534.8 171.3 535.5Z"/>
<path d="M323.0 535.8C323.3 537.0 323.9 539.0 322.9 539.9C321.9 540.8 318.7 540.5 317.0 541.0C315.3 541.5 314.2 542.7 312.8 542.6C311.3 542.6 310.1 541.4 308.5 540.9C307.0 540.4 304.1 540.4 303.3 539.6C302.5 538.7 303.6 536.9 303.8 535.8C304.0 534.6 304.0 533.6 304.6 532.4C305.1 531.2 305.6 529.1 307.0 528.7C308.3 528.2 311.1 529.5 312.8 529.8C314.4 530.1 315.8 529.9 317.2 530.3C318.5 530.8 320.0 531.5 320.9 532.4C321.9 533.3 322.7 534.5 323.0 535.8Z"/>
</g>
<g fill="none" stroke="#3a9fd8" stroke-linecap="round" stroke-linejoin="round">
<path d="M194 420 C182 417 172 420 169.5 430" stroke-width="6.5" stroke="#58b0e6"/>
<path d="M364 424 C352 418 337 418.5 332 424 C328 430 328.5 436 329.5 441" stroke-width="7.5" stroke="#55aee5"/>
<path d="M344 475.5 C336 473.5 331.5 477 330.5 483 C329.5 488 329.5 491 330.5 494" stroke-width="6"/>
<path d="M164.5 457 L164 467" stroke-width="3"/>
<path d="M599 432.4 L586.4 432.4 L586 443" stroke-width="4.6" stroke="#52b3e8"/>
</g>
<g fill="none" stroke="#3a93c4" stroke-opacity="0.85" stroke-linecap="round" stroke-linejoin="round">
<path d="M173 548 C180 552 184 560 186 572 C188 582 192 588 194 591" stroke-width="7"/>
<path d="M256 555 C250 552 243 553 242.5 560 L243 572" stroke-width="5"/>
<path d="M242.5 596 L243 607" stroke-width="4.6"/>
<path d="M285 631 C298 632 308 638 311 648 L313 657" stroke-width="6"/>
</g>
<g fill="#3a9fd8" stroke="#2b8cc4" stroke-width="0.5">
<path d="M165.0 479.0 C166.1 483.8 168.5 486.2 168.5 488.0 C168.5 492.4 161.5 492.4 161.5 488.0Z"/>
<path d="M324.0 444.5 C325.1 449.3 327.5 451.7 327.5 453.5 C327.5 457.9 320.5 457.9 320.5 453.5Z"/>
<path d="M586.0 450.5 C586.7 454.1 588.2 455.9 588.2 457.2 C588.2 460.6 583.8 460.6 583.8 457.2Z"/>
<path d="M586.2 465.0 C586.9 469.0 588.5 471.0 588.5 472.5 C588.5 476.2 583.9 476.2 583.9 472.5Z"/>
</g>
<g fill="#3d9fd6" fill-opacity="0.75">
<path d="M518.9 581.5C518.7 582.9 518.3 584.1 517.3 585.3C516.3 586.4 514.5 588.0 512.9 588.3C511.2 588.5 509.1 587.3 507.3 586.6C505.5 585.9 502.8 585.3 501.9 584.0C501.1 582.8 501.4 580.5 502.2 579.0C503.0 577.6 504.8 576.1 506.6 575.5C508.3 574.8 510.7 574.9 512.8 575.2C514.8 575.4 517.6 575.9 518.6 576.9C519.6 578.0 519.1 580.1 518.9 581.5Z"/>
<path d="M566 572 C580 570 595 580 602 595 C606 603 603 608 597 606 C590 603 588 592 580 586 C573 581 566 580 566 572Z"/>
<path d="M380.9 664.0C380.8 665.2 380.4 666.8 379.5 667.6C378.6 668.5 376.8 669.1 375.5 669.1C374.2 669.1 372.5 668.5 371.5 667.6C370.5 666.8 369.6 665.3 369.5 664.0C369.4 662.7 370.1 660.8 371.1 660.0C372.1 659.1 374.1 658.7 375.5 658.7C376.9 658.8 378.9 659.3 379.7 660.1C380.6 661.0 380.9 662.8 380.9 664.0Z"/>
</g>
<path d="M390.5 641.6 L405 631.8 L415 625.5 L425 618.5 L435 611 L445 602.5 L455 594 L465 587.2 L466.5 587 L554 587 L550 588.2 L540 589 L530 590.8 L520 593.7 L510 598 L500 603.5 L490 610.5 L485 616.5 L475 627 L465 635.5 L458.5 641.6Z" fill="#cf6a36" fill-opacity="0.9" stroke="#cdbb2c" stroke-opacity="0.9" stroke-width="3.3" stroke-linejoin="round"/>
<path d="M437 636 C443 627 450 621.5 458 618.5" stroke="#f0a888" stroke-opacity="0.6" stroke-width="6.5" stroke-linecap="round" fill="none" filter="url(#blur1)"/>
<path d="M751.6 660.0C751.5 662.2 746.0 664.3 742.5 666.5C739.1 668.7 737.2 671.8 730.8 673.1C724.3 674.5 712.8 674.3 703.8 674.8C694.8 675.3 684.5 676.8 677.0 676.2C669.5 675.5 664.8 672.3 658.6 670.7C652.4 669.1 643.0 668.3 639.7 666.5C636.4 664.7 637.9 662.0 638.9 660.0C639.9 658.0 642.3 656.0 645.6 654.3C649.0 652.5 653.4 650.8 659.0 649.4C664.6 648.1 671.7 646.7 679.0 646.2C686.3 645.7 694.7 646.1 702.8 646.5C710.8 646.8 720.5 646.9 727.1 648.1C733.8 649.2 738.6 651.5 742.7 653.4C746.8 655.4 751.6 657.8 751.6 660.0Z" fill="#3c9bd2" fill-opacity="0.6"/>
<path d="M799.5 670.0C799.8 671.2 800.0 672.9 798.3 673.9C796.5 674.8 792.2 675.3 789.2 675.6C786.1 675.8 783.1 675.6 780.0 675.3C777.0 675.0 773.0 674.7 771.0 673.8C769.0 672.9 768.0 671.2 768.0 670.0C768.1 668.8 769.3 667.1 771.4 666.3C773.4 665.5 777.3 665.3 780.3 664.9C783.2 664.6 786.5 664.1 789.2 664.4C791.9 664.7 794.8 665.7 796.5 666.6C798.2 667.6 799.2 668.8 799.5 670.0Z" fill="#3c9bd2" fill-opacity="0.6"/>
<path d="M646.5 575.6C647.7 576.6 650.6 580.2 653.5 581.6C656.4 583.0 660.2 584.1 664.0 584.2C667.8 584.3 672.4 582.8 676.5 582.1C680.6 581.4 684.5 579.8 688.5 579.8C692.5 579.8 696.8 580.7 700.5 582.1C704.2 583.5 707.4 586.3 710.5 588.1C713.6 589.9 717.6 592.2 719.0 593.0" fill="none" stroke="#9bd3f3" stroke-width="5.8" stroke-linecap="round"/><path d="M744.0 599.0 L720.6 584.0 L715.4 601.6 Z" fill="#9bd3f3"/>
<path d="M640.0 599.0C641.2 600.0 644.1 603.6 647.0 605.0C649.9 606.4 653.7 607.5 657.5 607.6C661.3 607.7 665.9 606.2 670.0 605.5C674.1 604.8 678.0 603.2 682.0 603.2C686.0 603.2 690.3 604.1 694.0 605.5C697.7 606.9 700.8 609.9 704.0 611.5C707.2 613.1 711.5 614.4 713.0 615.0" fill="none" stroke="#9bd3f3" stroke-width="5.8" stroke-linecap="round"/><path d="M738.0 621.0 L714.6 606.0 L709.4 623.6 Z" fill="#9bd3f3"/>
<path d="M634.0 622.4C635.2 623.4 638.1 627.0 641.0 628.4C643.9 629.8 647.7 630.9 651.5 631.0C655.3 631.1 659.9 629.6 664.0 628.9C668.1 628.2 672.0 626.6 676.0 626.6C680.0 626.6 684.3 627.5 688.0 628.9C691.7 630.3 694.8 633.2 698.0 634.9C701.2 636.6 705.8 638.5 707.3 639.2" fill="none" stroke="#9bd3f3" stroke-width="5.8" stroke-linecap="round"/><path d="M732.3 645.2 L708.9 630.2 L703.7 647.8 Z" fill="#9bd3f3"/>
<circle cx="414.6" cy="372.2" r="31.8" fill="none" stroke="#f39200" stroke-width="2.2"/>
<circle cx="414.6" cy="471.2" r="31.8" fill="none" stroke="#f39200" stroke-width="2.2"/>
<circle cx="583.0" cy="451.5" r="32.0" fill="none" stroke="#f39200" stroke-width="2.2"/>
<circle cx="283.8" cy="614.3" r="55.8" fill="none" stroke="#f39200" stroke-width="2.2"/>
<circle cx="449.4" cy="392.4" r="19.5" fill="#161c33" stroke="#fff" stroke-width="2.6"/><path d="M452.39 382.54 L452.39 402.25 L445.82 402.25 L445.82 387.92 L443.23 388.72 L442.43 383.94 L447.61 382.54Z" fill="#fff"/>
<circle cx="393.0" cy="447.0" r="19.5" fill="#161c33" stroke="#fff" stroke-width="2.6"/><text transform="translate(393.0 456.7) scale(1.24 1)" text-anchor="middle" font-size="27.0" font-weight="700" fill="#fff" stroke="#fff" stroke-width="0.5">2</text>
<circle cx="348.3" cy="533.8" r="19.5" fill="#161c33" stroke="#fff" stroke-width="2.6"/><text transform="translate(348.3 543.5) scale(1.24 1)" text-anchor="middle" font-size="27.0" font-weight="700" fill="#fff" stroke="#fff" stroke-width="0.5">3</text>
<circle cx="541.5" cy="429.6" r="19.5" fill="#161c33" stroke="#fff" stroke-width="2.6"/><text transform="translate(541.5 439.3) scale(1.24 1)" text-anchor="middle" font-size="27.0" font-weight="700" fill="#fff" stroke="#fff" stroke-width="0.5">4</text>
<circle cx="538.0" cy="568.2" r="19.5" fill="#161c33" stroke="#fff" stroke-width="2.6"/><text transform="translate(538.0 577.9) scale(1.24 1)" text-anchor="middle" font-size="27.0" font-weight="700" fill="#fff" stroke="#fff" stroke-width="0.5">5</text>
<circle cx="284.3" cy="558.4" r="19.5" fill="#161c33" stroke="#fff" stroke-width="2.6"/><text transform="translate(284.3 568.1) scale(1.24 1)" text-anchor="middle" font-size="27.0" font-weight="700" fill="#fff" stroke="#fff" stroke-width="0.5">6</text>
<circle cx="684.3" cy="550.0" r="19.5" fill="#161c33" stroke="#fff" stroke-width="2.6"/><text transform="translate(684.3 559.7) scale(1.24 1)" text-anchor="middle" font-size="27.0" font-weight="700" fill="#fff" stroke="#fff" stroke-width="0.5">7</text>
<circle cx="94.6" cy="514.1" r="28.4" fill="#161c33" stroke="#fff" stroke-width="1.9"/>
<circle cx="93.3" cy="617.8" r="28.4" fill="#161c33" stroke="#fff" stroke-width="1.9"/>
<circle cx="69.1" cy="496.1" r="11.4" fill="#161c33" stroke="#fff" stroke-width="1.9"/><text transform="translate(69.1 502.2) scale(1.24 1)" text-anchor="middle" font-size="17.0" font-weight="700" fill="#fff" stroke="#fff" stroke-width="0.5">8</text>
<circle cx="67.6" cy="599.5" r="11.2" fill="#161c33" stroke="#fff" stroke-width="1.9"/><text transform="translate(67.6 605.6) scale(1.24 1)" text-anchor="middle" font-size="17.0" font-weight="700" fill="#fff" stroke="#fff" stroke-width="0.5">9</text>
<path d="M72 518.1 L116.8 518.1" stroke="#fff" stroke-width="2.3"/>
<path d="M76.9 515.8 L76.9 510.9 L111.1 510.9 L111.1 515.8 L108.9 515.8 L108.9 513.9 L79.1 513.9 L79.1 515.8Z" fill="#fff"/>
<path d="M69.7 614.5 L116.8 614.5" stroke="#fff" stroke-width="1.1"/>
<path d="M68.5 619.1 L118 619.1" stroke="#fff" stroke-width="2.9"/>
<g stroke="#fff" stroke-width="0.8" fill="none"><path d="M86.6 623.6 L99 623.6 L100.4 627.4 L103.4 629 L103.8 634.4 L99 635.6 L89 633.4 L86.2 629.6Z"/><ellipse cx="92.8" cy="623.8" rx="5.6" ry="1.7"/><ellipse cx="92.8" cy="625.6" rx="5.6" ry="1.7"/><circle cx="103.2" cy="632.6" r="2.4" fill="#161c33"/><path d="M87.4 628.6 L100 630.2"/></g>
<rect x="38" y="548.0" width="114.6" height="19.6" rx="3.2" fill="#161c33" stroke="#c9ccd6" stroke-width="1"/><text x="56.0" y="556.8" textLength="79.0" lengthAdjust="spacingAndGlyphs" font-size="7.0" font-weight="700" fill="#fff">ДИЗАЙН-ВСТАВКА ИЗ</text><text x="51.0" y="565.2" textLength="88.6" lengthAdjust="spacingAndGlyphs" font-size="7.0" font-weight="700" fill="#fff">НЕРЖАВЕЮЩЕЙ СТАЛИ</text>
<rect x="38" y="653.6" width="114.6" height="20.0" rx="3.2" fill="#161c33" stroke="#c9ccd6" stroke-width="1"/><text x="45.0" y="661.2" textLength="101.0" lengthAdjust="spacingAndGlyphs" font-size="7.0" font-weight="700" fill="#fff">КОРПУС ИЗ ABS-ПЛАСТИКА</text><text x="47.6" y="669.8" textLength="93.4" lengthAdjust="spacingAndGlyphs" font-size="7.0" font-weight="700" fill="#fff">И НЕРЖАВЕЮЩЕЙ СТАЛИ</text>
<circle cx="105.20" cy="769.7" r="27.6" fill="#161c33"/>
<circle cx="213.20" cy="769.7" r="27.6" fill="#f39200"/>
<circle cx="319.80" cy="769.7" r="27.6" fill="#f39200"/>
<circle cx="425.20" cy="769.7" r="27.6" fill="#f39200"/>
<circle cx="525.60" cy="768.2" r="27.6" fill="#161c33"/>
<circle cx="616.40" cy="768.2" r="27.6" fill="#161c33"/>
<circle cx="707.20" cy="768.2" r="27.6" fill="#161c33"/>
<text transform="translate(105.4 761.2) scale(1.1 1)" text-anchor="middle" font-size="14.6" font-weight="700" fill="#fff" stroke="#fff" stroke-width="0.6">1st</text>
<path d="M105.4 764.0 C106.6 770.4 115.5 773.5 115.5 783.1 A10.1 10.1 0 1 1 95.3 783.1 C95.3 773.5 104.2 770.4 105.4 764.0Z" fill="none" stroke="#fff" stroke-width="1.7" stroke-linejoin="miter"/>
<path d="M98.6 781.6 C98.4 785.4 100.4 788.6 103.4 789.6" fill="none" stroke="#fff" stroke-width="1.1"/>
<text transform="translate(213.4 763.7) scale(1.1 1)" text-anchor="middle" font-size="14.2" font-weight="700" fill="#161c33" stroke="#161c33" stroke-width="0.6">2nd</text>
<path d="M213.4 768.0 C214.4 773.1 221.9 774.6 221.9 782.7 A8.5 8.5 0 1 1 204.9 782.7 C204.9 774.6 212.4 773.1 213.4 768.0Z" fill="none" stroke="#161c33" stroke-width="1.2" stroke-linejoin="miter"/>
<path d="M313.4 753.2 C314.9 761.3 325.6 766.2 325.6 777.8 A12.2 12.2 0 1 1 301.2 777.8 C301.2 766.2 311.9 761.3 313.4 753.2Z" fill="none" stroke="#161c33" stroke-width="1.8" stroke-linejoin="miter"/>
<path d="M332.8 761.2 C333.9 766.8 342.1 768.7 342.1 777.5 A9.3 9.3 0 1 1 323.5 777.5 C323.5 768.7 331.7 766.8 332.8 761.2Z" fill="#f39200" stroke="#161c33" stroke-width="1.6" stroke-linejoin="miter"/>
<path d="M304.6 776.4 C304.4 780.6 306.4 783.8 309.8 784.8" fill="none" stroke="#161c33" stroke-width="1.3"/>
<path d="M323.2 753.6 L331.6 753.6 M327.4 749.4 L327.4 757.8" stroke="#161c33" stroke-width="1.4" fill="none"/>
<g stroke="#161c33" stroke-width="1.5" fill="none" stroke-linecap="round" stroke-linejoin="round">
<path d="M408.4 757.6 L445.6 760.4 L445.6 757.6"/><path d="M405.2 784.4 L445.2 778.4"/><path d="M428 759.2 L428 780.8"/>
<path d="M422.8 763.2 L420.4 766.4 L421.6 768 L416.8 771.2 L420 773.6 L414.4 778.4 L416.4 778.4 L422.8 775.2"/>
</g>
<path d="M518.4 749.2 C519.3 753.4 525.5 754.6 525.5 761.3 A7.1 7.1 0 1 1 511.3 761.3 C511.3 754.6 517.5 753.4 518.4 749.2Z" fill="none" stroke="#fff" stroke-width="1.2" stroke-linejoin="miter"/>
<path d="M513.6 760.6 C513.4 763.4 514.8 765.6 517 766.4" fill="none" stroke="#fff" stroke-width="0.8"/>
<g stroke="#fff" stroke-width="2.5" fill="none" stroke-linecap="butt"><path d="M518.8 771.2 L518.8 787.8"/><path d="M528.8 765.7 C531.7 765.3 534.0 767.5 534.0 772.9 L534.0 787.8"/></g><g stroke="#161c33" stroke-width="0.7" fill="none"><path d="M518.8 772.0 L518.8 787"/><path d="M529.6 765.8 C531.7 765.4 534.0 767.5 534.0 772.9 L534.0 787"/></g><path d="M515.8 790.2 L517.6 787.2 L520.0 787.2 L521.8 790.2Z M531.0 790.2 L532.8 787.2 L535.2 787.2 L537.0 790.2Z" fill="#fff"/>
<path d="M607.6 749.2 C608.5 753.7 615.4 754.4 615.4 761.8 A7.8 7.8 0 1 1 599.8 761.8 C599.8 754.4 606.7 753.7 607.6 749.2Z" fill="none" stroke="#fff" stroke-width="1.0" stroke-linejoin="miter"/>
<path d="M596 770.4 L618.8 753.6 M600 756 L618.4 769.6" stroke="#fff" stroke-width="1" fill="none"/>
<circle cx="627.2" cy="751.6" r="3.6" fill="none" stroke="#fff" stroke-width="0.9"/>
<path d="M632.0 751.6 L633.8 751.6 M631.4 754.0 L632.9 754.9 M629.6 755.8 L630.5 757.3 M627.2 756.4 L627.2 758.2 M624.8 755.8 L623.9 757.3 M623.0 754.0 L621.5 754.9 M622.4 751.6 L620.6 751.6 M623.0 749.2 L621.5 748.3 M624.8 747.4 L623.9 745.9 M627.2 746.8 L627.2 745.0 M629.6 747.4 L630.5 745.9 M631.4 749.2 L632.9 748.3 " stroke="#fff" stroke-width="0.8" fill="none"/>
<g stroke="#fff" stroke-width="2.5" fill="none" stroke-linecap="butt"><path d="M611.6 772.0 L611.6 787.8"/><path d="M618.0 764.9 C622.8 764.5 626.8 766.7 626.8 772.1 L626.8 787.8"/></g><g stroke="#161c33" stroke-width="0.7" fill="none"><path d="M611.6 772.8 L611.6 787"/><path d="M618.8 765.0 C622.8 764.6 626.8 766.7 626.8 772.1 L626.8 787"/></g><path d="M608.6 790.2 L610.4 787.2 L612.8 787.2 L614.6 790.2Z M623.8 790.2 L625.6 787.2 L628.0 787.2 L629.8 790.2Z" fill="#fff"/>
<path d="M689.2 757.2 C692.7 759.4 697.2 759.0 701.7 756.6 C706.2 754.2 710.2 754.6 719.2 758.8" fill="none" stroke="#fff" stroke-width="3.3" stroke-linecap="round"/>
<path d="M728.8 759.2 L717.8 753.8 L719.8 759.0 L717.8 763.8Z" fill="#fff"/>
<path d="M687.2 766.4 C690.7 768.6 695.2 768.2 699.7 765.8 C704.2 763.4 708.2 763.8 718.0 768.8" fill="none" stroke="#fff" stroke-width="3.3" stroke-linecap="round"/>
<path d="M727.6 769.2 L716.6 763.8 L718.6 769.0 L716.6 773.8Z" fill="#fff"/>
<path d="M686.4 776.8 C689.9 779.0 694.4 778.6 698.9 776.2 C703.4 773.8 707.4 774.2 717.2 779.6" fill="none" stroke="#fff" stroke-width="3.3" stroke-linecap="round"/>
<path d="M726.8 780.0 L715.8 774.6 L717.8 779.8 L715.8 784.6Z" fill="#fff"/>
<circle cx="81.4" cy="747.6" r="11.2" fill="#161c33" stroke="#fff" stroke-width="1.9"/><path d="M83.28 741.39 L83.28 753.81 L79.14 753.81 L79.14 744.78 L77.51 745.28 L77.01 742.27 L80.27 741.39Z" fill="#fff"/>
<circle cx="189.6" cy="747.6" r="11.2" fill="#161c33" stroke="#fff" stroke-width="1.9"/><text transform="translate(189.6 753.7) scale(1.22 1)" text-anchor="middle" font-size="17.0" font-weight="700" fill="#fff" stroke="#fff" stroke-width="0.3">2</text>
<circle cx="296.6" cy="747.6" r="11.2" fill="#161c33" stroke="#fff" stroke-width="1.9"/><text transform="translate(296.6 753.7) scale(1.22 1)" text-anchor="middle" font-size="17.0" font-weight="700" fill="#fff" stroke="#fff" stroke-width="0.3">3</text>
<circle cx="401.6" cy="747.6" r="11.2" fill="#161c33" stroke="#fff" stroke-width="1.9"/><text transform="translate(401.6 753.7) scale(1.22 1)" text-anchor="middle" font-size="17.0" font-weight="700" fill="#fff" stroke="#fff" stroke-width="0.3">4</text>
<circle cx="500.0" cy="747.2" r="10.7" fill="#161c33" stroke="#fff" stroke-width="1.9"/><text transform="translate(500.0 753.1) scale(1.22 1)" text-anchor="middle" font-size="16.4" font-weight="700" fill="#fff" stroke="#fff" stroke-width="0.3">5</text>
<circle cx="591.0" cy="747.8" r="10.6" fill="#161c33" stroke="#fff" stroke-width="1.9"/><text transform="translate(591.0 753.7) scale(1.22 1)" text-anchor="middle" font-size="16.4" font-weight="700" fill="#fff" stroke="#fff" stroke-width="0.3">6</text>
<circle cx="681.6" cy="747.4" r="10.5" fill="#161c33" stroke="#fff" stroke-width="1.9"/><text transform="translate(681.6 753.3) scale(1.22 1)" text-anchor="middle" font-size="16.4" font-weight="700" fill="#fff" stroke="#fff" stroke-width="0.3">7</text>
<text x="61.0" y="810.9" textLength="82.8" lengthAdjust="spacingAndGlyphs" font-size="8.4" font-weight="700" fill="#373985">ПЕРВИЧНАЯ ВОДА</text>
<text x="75.0" y="820.9" textLength="54.5" lengthAdjust="spacingAndGlyphs" font-size="8.4" font-weight="700" fill="#373985">В ДУШЕВОЙ</text>
<text x="172.5" y="810.9" textLength="83.0" lengthAdjust="spacingAndGlyphs" font-size="8.4" font-weight="700" fill="#373985">ВТОРИЧНАЯ ВОДА</text>
<text x="180.5" y="820.9" textLength="66.5" lengthAdjust="spacingAndGlyphs" font-size="8.4" font-weight="700" fill="#373985">ПОД ПЛИТКОЙ</text>
<text x="295.0" y="810.9" textLength="43.0" lengthAdjust="spacingAndGlyphs" font-size="8.4" font-weight="700" fill="#373985">ДВОЙНАЯ</text>
<text x="286.0" y="820.9" textLength="59.0" lengthAdjust="spacingAndGlyphs" font-size="8.4" font-weight="700" fill="#373985">ДРЕНАЖНАЯ</text>
<text x="295.0" y="830.9" textLength="42.5" lengthAdjust="spacingAndGlyphs" font-size="8.4" font-weight="700" fill="#373985">СИСТЕМА</text>
<text x="388.0" y="810.9" textLength="81.0" lengthAdjust="spacingAndGlyphs" font-size="8.4" font-weight="700" fill="#373985">ЭРОЗИЯ ЗАТИРКИ</text>
<text x="494.4" y="810.9" textLength="67.2" lengthAdjust="spacingAndGlyphs" font-size="8.4" font-weight="700" fill="#373985">ГИДРОЗАТВОР</text>
<text x="579.8" y="810.9" textLength="70.8" lengthAdjust="spacingAndGlyphs" font-size="8.4" font-weight="700" fill="#373985">СУХОЙ ЗАТВОР</text>
<text x="662.4" y="810.9" textLength="84.8" lengthAdjust="spacingAndGlyphs" font-size="8.4" font-weight="700" fill="#373985">В ДВА РАЗА ВЫШЕ</text>
<text x="674.2" y="820.9" textLength="61.8" lengthAdjust="spacingAndGlyphs" font-size="8.4" font-weight="700" fill="#373985">ПРОПУСКНАЯ</text>
<text x="671.0" y="830.9" textLength="68.2" lengthAdjust="spacingAndGlyphs" font-size="8.4" font-weight="700" fill="#373985">СПОСОБНОСТЬ</text>
<!-- HEADER -->
<text x="40" y="187.5" textLength="87" lengthAdjust="spacingAndGlyphs" font-size="14.4" fill="#111" stroke="#111" stroke-width="0.25">BETTOSERB</text>
<g fill="none" stroke="#151515" stroke-width="0.95" stroke-linecap="round" stroke-linejoin="round">
  <path d="M133.2 176.2 C129.6 178.4 129 186 133.4 190.4" stroke-width="1.1"/>
  <path d="M133.2 176.2 C135.4 173.6 140.4 173.2 143 174.4 C144.8 175.2 146 176.4 146.4 177.6 C146 179.2 145.2 180.4 144 181.2 C142.6 182.2 140.8 182.4 139.2 182.2"/>
  <path d="M133.2 176.2 L139.2 182.2" stroke-width="1.3"/>
  <path d="M136 177.6 L139.4 174.2 M137.4 179 L141.6 174.2 M138.6 180.4 L143.4 175 M140 181.4 L144.8 176.4 M141.8 181.8 L145.6 178.2" stroke-width="0.5" stroke="#555"/>
  <path d="M139.2 182.2 C141.6 181.6 144.4 181.6 146.4 182.4 C148 183 149.4 184.4 150 185.8 C149 187 147.6 187.6 146 187.4 C144.4 187.2 142.8 186.4 141.6 185.4 C140.6 184.6 139.8 183.4 139.2 182.2Z"/>
  <path d="M138.8 184.6 C136.8 186 135.6 188 136 190 C136.4 192.6 137.8 194 139.6 194.6 C141.2 195 142.8 194.4 144 193.4 C145.6 192.2 146.4 190.6 146.4 189 C145 188 143 186.6 141.6 185.4"/>
  <path d="M138.8 184.6 L141.6 185.4" stroke-width="1.2"/>
  <path d="M139.6 186 L137.4 191.6 M141 186.6 L139.2 193.4 M142.4 187.4 L141.2 194 M143.8 188.2 L143 193.4 M145.2 188.8 L144.8 192" stroke-width="0.5" stroke="#555"/>
</g>
<rect x="23.5" y="208.8" width="1" height="56.8" fill="#2a2a2a"/>
<text x="36.8" y="229.6" textLength="387.5" lengthAdjust="spacingAndGlyphs" font-size="24" font-weight="700" fill="#121212">ДРЕНАЖНАЯ СИСТЕМА</text>
<text x="39" y="264.2" textLength="312.5" lengthAdjust="spacingAndGlyphs" font-size="23.6" fill="#222" stroke="#d2d5d2" stroke-width="0.7">НОВОГО ПОКОЛЕНИЯ</text>
<!-- BADGE -->
<rect x="556" y="174.4" width="159" height="58" rx="5.5" fill="#161c33"/>
<path d="M554.2 176.7 L576.8 185.5 L576.8 201 C576.8 215 566.4 225 554.2 231.6 C542 225 531.6 215 531.6 201 L531.6 185.5Z" fill="#d4d6d4" stroke="#d4d6d4" stroke-width="9.2" stroke-linejoin="miter"/>
<path d="M554.2 176.7 L576.8 185.5 L576.8 201 C576.8 215 566.4 225 554.2 231.6 C542 225 531.6 215 531.6 201 L531.6 185.5Z" fill="none" stroke="#161c33" stroke-width="3.1" stroke-linejoin="miter"/>
<path d="M546.6 192.8 L546.6 213.8 L542.7 213.8 L542.7 197.2 L539 198.7 L538.1 195.5 L543.7 192.8Z" fill="#161c33"/>
<path fill-rule="evenodd" d="M560.5 192.45 A9.1 10.85 0 1 0 560.5 214.15 A9.1 10.85 0 1 0 560.5 192.45Z M560.5 196.05 A5.3 7.25 0 1 1 560.5 210.55 A5.3 7.25 0 1 1 560.5 196.05Z" fill="#161c33"/>
<text x="593" y="201" textLength="37.4" lengthAdjust="spacingAndGlyphs" font-size="18.6" font-weight="700" fill="#fff" stroke="#161c33" stroke-width="0.7">ЛЕТ</text>
<text x="594.4" y="221.6" textLength="108" lengthAdjust="spacingAndGlyphs" font-size="18.6" font-weight="700" fill="#fff" stroke="#161c33" stroke-width="0.7">ГАРАНТИЯ</text>
</g><!-- end mainClip -->
<!-- RIGHT PANEL -->
<rect x="794.2" y="0" width="206" height="258" fill="#f39200"/>
<rect x="794.2" y="259.4" width="206" height="741" fill="#161c33"/>
<rect x="794.2" y="257.6" width="206" height="1.8" fill="#f4f1ea"/>
<rect x="794.2" y="400.6" width="206" height="1.3" fill="#f2f3f5"/>
<rect x="794.2" y="557.1" width="206" height="1.3" fill="#f2f3f5"/>
<rect x="794.2" y="696.9" width="206" height="1.3" fill="#f2f3f5"/>
<text x="831.7" y="195.9" textLength="137.6" lengthAdjust="spacingAndGlyphs" font-size="28.6" font-weight="700" fill="#161c33" stroke="#161c33" stroke-width="1.3" stroke-linejoin="round">DOUBLE</text>
<text x="834.7" y="226.8" textLength="132.6" lengthAdjust="spacingAndGlyphs" font-size="28.6" font-weight="700" fill="#161c33" stroke="#161c33" stroke-width="1.3" stroke-linejoin="round">SYSTEM</text>
<g font-size="6.6" font-weight="700" fill="#fff">
  <text x="843.5" y="308.3" textLength="110.7" lengthAdjust="spacingAndGlyphs">НЕРЖАВЕЮЩАЯ СТАЛЬ &amp; ABS</text>
  <text x="835.8" y="316.2" textLength="125.3" lengthAdjust="spacingAndGlyphs">ДВОЙНОЙ СТАНДАРТ ПРОЧНОСТИ</text>
  <text x="806.8" y="445.3" textLength="183.7" lengthAdjust="spacingAndGlyphs">В ДВА РАЗА ВЫШЕ ПРОПУСКНАЯ СПОСОБНОСТЬ -</text>
  <text x="833" y="453.4" textLength="132" lengthAdjust="spacingAndGlyphs">В ДВА РАЗА МЕНЬШЕ ЗАГРЯЗНЕНИЙ</text>
  <text x="841.4" y="596.5" textLength="114.5" lengthAdjust="spacingAndGlyphs">СИСТЕМА ДВОЙНОГО ЗАТВОРА</text>
  <text x="837" y="738.7" textLength="122.7" lengthAdjust="spacingAndGlyphs">ДВОЙНАЯ ДРЕНАЖНАЯ СИСТЕМА</text>
</g>
<!-- icon A -->
<g fill="none" stroke="#fff">
  <path d="M837.2 342.4 L837.2 333.4 L957 333.4 L957 342.4" stroke-width="2.1"/>
  <path d="M811 345 L982 345" stroke-width="0.9"/>
  <path d="M830.4 347 L830.4 350 Q830.6 351.6 834.6 351.6 L836.4 351.6 L836.4 355 L957.6 355 L957.6 351.6 L959.4 351.6 Q963.4 351.6 963.6 350 L963.6 347" stroke-width="1.6" stroke-dasharray="3.8 2.1"/>
  <path d="M879.6 358 L879.6 370.2 L913.8 370.2 L913.8 358" stroke-width="1.6" stroke-dasharray="3.8 2.1"/>
  <circle cx="896.8" cy="362.6" r="4" stroke-width="1.5" stroke-dasharray="2.6 1.6"/>
</g>
<g fill="none" stroke="#fff" stroke-linecap="round">
<path d="M893.30 471.19 A27.6 27.6 0 0 1 921.62 473.67" stroke-width="2.1"/>
<circle cx="896.37" cy="474.74" r="0.85" fill="#fff" stroke="none"/><circle cx="900.79" cy="473.36" r="0.85" fill="#fff" stroke="none"/><circle cx="905.40" cy="472.90" r="0.85" fill="#fff" stroke="none"/><circle cx="910.01" cy="473.36" r="0.85" fill="#fff" stroke="none"/><circle cx="914.43" cy="474.74" r="0.85" fill="#fff" stroke="none"/>
<path d="M926.50 479.81 L923.16 468.66 L918.02 477.98Z" fill="#fff" stroke="none"/>
<path d="M930.21 483.90 A27.6 27.6 0 0 1 927.73 512.22" stroke-width="2.1"/>
<circle cx="926.66" cy="486.97" r="0.85" fill="#fff" stroke="none"/><circle cx="928.04" cy="491.39" r="0.85" fill="#fff" stroke="none"/><circle cx="928.50" cy="496.00" r="0.85" fill="#fff" stroke="none"/><circle cx="928.04" cy="500.61" r="0.85" fill="#fff" stroke="none"/><circle cx="926.66" cy="505.03" r="0.85" fill="#fff" stroke="none"/>
<path d="M921.59 517.10 L932.74 513.76 L923.42 508.62Z" fill="#fff" stroke="none"/>
<path d="M917.50 520.81 A27.6 27.6 0 0 1 889.18 518.33" stroke-width="2.1"/>
<circle cx="914.43" cy="517.26" r="0.85" fill="#fff" stroke="none"/><circle cx="910.01" cy="518.64" r="0.85" fill="#fff" stroke="none"/><circle cx="905.40" cy="519.10" r="0.85" fill="#fff" stroke="none"/><circle cx="900.79" cy="518.64" r="0.85" fill="#fff" stroke="none"/><circle cx="896.37" cy="517.26" r="0.85" fill="#fff" stroke="none"/>
<path d="M884.30 512.19 L887.64 523.34 L892.78 514.02Z" fill="#fff" stroke="none"/>
<path d="M880.59 508.10 A27.6 27.6 0 0 1 883.07 479.78" stroke-width="2.1"/>
<circle cx="884.14" cy="505.03" r="0.85" fill="#fff" stroke="none"/><circle cx="882.76" cy="500.61" r="0.85" fill="#fff" stroke="none"/><circle cx="882.30" cy="496.00" r="0.85" fill="#fff" stroke="none"/><circle cx="882.76" cy="491.39" r="0.85" fill="#fff" stroke="none"/><circle cx="884.14" cy="486.97" r="0.85" fill="#fff" stroke="none"/>
<path d="M889.21 474.90 L878.06 478.24 L887.38 483.38Z" fill="#fff" stroke="none"/>
</g>
<path d="M880 651 L880 626.3 A12.7 12.7 0 0 1 905.4 626.3 L905.4 653.3 A12.7 12.7 0 0 0 930.8 653.3 L930.8 628.6" fill="none" stroke="#fff" stroke-width="2.9"/>
<path d="M875.4 656 L878.4 650.6 L881.6 650.6 L884.6 656Z" fill="#fff" stroke="#fff" stroke-width="0.5" stroke-linejoin="round"/>
<path d="M926.2 624.2 L935.2 624.2 L932.4 629.4 L929.2 629.4Z" fill="#fff" stroke="#fff" stroke-width="0.5" stroke-linejoin="round"/>
<g fill="none" stroke="#fff" stroke-width="1.9" stroke-linejoin="round" stroke-linecap="round">
<path d="M883.6 790.5 L883.6 766.2 A10 10 0 0 1 893.6 756.2 L928.2 756.2"/>
<path d="M901 790.5 L901 772.6 L928.2 772.6"/>
<rect x="881.4" y="791.8" width="22.4" height="4.6" rx="0.8"/>
<path d="M928.4 786.6 L928.4 751.8 L937.4 751.8"/>
<path d="M928.4 763 L937 763 A9.6 9.6 0 0 1 946.6 772.6 L946.6 789.6"/>
<path d="M928.4 775.6 L936 775.6 L936 789.6"/>
<rect x="934.6" y="790.2" width="13.4" height="3.4" rx="0.7"/>
</g>
<g fill="none" stroke="#fff" stroke-width="1.2">
<circle cx="917.0" cy="780.5" r="2.1"/>
<circle cx="917.0" cy="785.5" r="2.1"/>
<circle cx="921.5" cy="780.5" r="2.1"/>
<circle cx="921.5" cy="785.5" r="2.1"/>
<circle cx="925.7" cy="780.5" r="2.1"/>
<circle cx="925.7" cy="785.5" r="2.1"/>
</g>
<g stroke="#fff" stroke-width="1.3" fill="none" stroke-linecap="butt">
<path d="M884.6 799.5 L884.6 816.5 M901 799.5 L901 816.5 M888.6 801.5 L888.6 805.5 M888.6 808 L888.6 811 M895.2 810.5 L895.2 815.5 M898.4 807 L898.4 815.5 M891.8 813.5 L891.8 816.5"/>
<path d="M936.2 796 L936.2 808.5 M945.6 796 L945.6 808.5 M938.6 803.5 L938.6 808 M943.2 796.5 L943.2 799.5"/>
</g>
<path d="M894.5 800.3 C895.8 803.2 896.6 804.1 896.6 805.1 C896.6 807.3 892.4 807.3 892.4 805.1Z" fill="none" stroke="#fff" stroke-width="1.1"/>
<path d="M889.6 807.8 C890.9 810.7 891.7 811.6 891.7 812.6 C891.7 814.8 887.5 814.8 887.5 812.6Z" fill="none" stroke="#fff" stroke-width="1.1"/>
<path d="M940.8 796.4 C941.6 798.4 942.1 799.0 942.1 799.7 C942.1 801.2 939.5 801.2 939.5 799.7Z" fill="none" stroke="#fff" stroke-width="1.1"/>
<path d="M942.6 802.7 C943.4 804.8 944.0 805.5 944.0 806.1 C944.0 807.8 941.2 807.8 941.2 806.1Z" fill="none" stroke="#fff" stroke-width="1.1"/>
<g fill="none" stroke="#fff" stroke-width="1.5" stroke-linecap="round" stroke-linejoin="round">
<path d="M862.6 820.4 C865.5 820.9 866.5 817.8 867.9 817.8 C869.3 817.8 870.1 820.7 872.8 820.4 C875.7 820.9 876.7 817.8 878.1 817.8 C879.5 817.8 880.3 820.7 883.0 820.4 C885.9 820.9 886.9 817.8 888.3 817.8 C889.7 817.8 890.5 820.7 893.2 820.4 C896.1 820.9 897.1 817.8 898.5 817.8 C899.9 817.8 900.7 820.7 903.4 820.4 C906.3 820.9 907.3 817.8 908.7 817.8 C910.1 817.8 910.9 820.7 913.6 820.4 C916.5 820.9 917.5 817.8 918.9 817.8 C920.3 817.8 921.1 820.7 923.8 820.4 C926.7 820.9 927.7 817.8 929.1 817.8 C930.5 817.8 931.3 820.7 934.0 820.4"/>
<path d="M867.5 827.4 C870.3 827.9 871.3 824.8 872.7 824.8 C874.1 824.8 874.9 827.7 877.5 827.4 C880.3 827.9 881.3 824.8 882.7 824.8 C884.1 824.8 884.9 827.7 887.5 827.4"/>
<path d="M906.5 827.4 C909.3 827.9 910.3 824.8 911.7 824.8 C913.1 824.8 913.9 827.7 916.5 827.4 C919.3 827.9 920.3 824.8 921.7 824.8 C923.1 824.8 923.9 827.7 926.5 827.4"/>
</g>
</svg>
</body>
</html>
